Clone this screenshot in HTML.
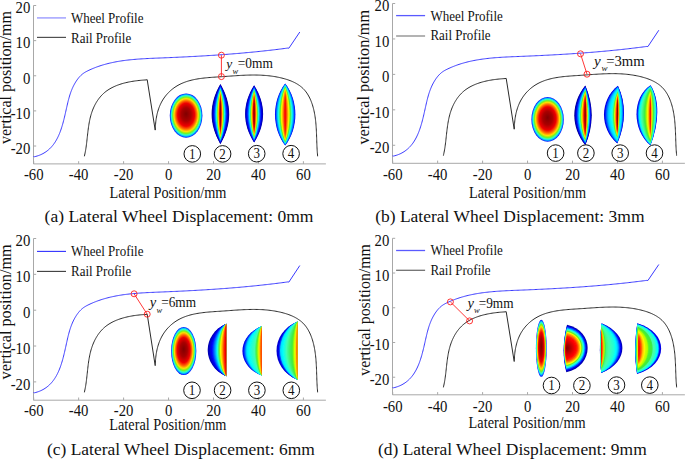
<!DOCTYPE html>
<html><head><meta charset="utf-8"><style>
html,body{margin:0;padding:0;background:#fff;width:685px;height:459px;overflow:hidden}
svg{display:block}
</style></head><body>
<svg width="685" height="459" viewBox="0 0 685 459" font-family="Liberation Serif" fill="#111">
<defs><radialGradient id="ov" cx="0.5" cy="0.5" r="0.5" fx="0.5" fy="0.46"><stop offset="0.0" stop-color="#800000"/><stop offset="0.3" stop-color="#a90000"/><stop offset="0.52" stop-color="#f00000"/><stop offset="0.64" stop-color="#ff6a00"/><stop offset="0.74" stop-color="#ffdf00"/><stop offset="0.82" stop-color="#73f51e"/><stop offset="0.89" stop-color="#2affcc"/><stop offset="0.94" stop-color="#00b2ff"/><stop offset="0.98" stop-color="#002eff"/><stop offset="1.0" stop-color="#0000fa"/></radialGradient><radialGradient id="ovd" cx="0" cy="0.5" r="1" fx="0" fy="0.5"><stop offset="0.0" stop-color="#800000"/><stop offset="0.15" stop-color="#b30000"/><stop offset="0.35" stop-color="#fa0000"/><stop offset="0.5" stop-color="#ff6a00"/><stop offset="0.62" stop-color="#ffdf00"/><stop offset="0.72" stop-color="#73f51e"/><stop offset="0.82" stop-color="#2affcc"/><stop offset="0.9" stop-color="#00b2ff"/><stop offset="0.97" stop-color="#0019ff"/><stop offset="1.0" stop-color="#0000e6"/></radialGradient><filter id="bl" x="-20%" y="-20%" width="140%" height="140%"><feGaussianBlur stdDeviation="0.35"/></filter><radialGradient id="ovd2" cx="0.5" cy="0.5" r="0.5"><stop offset="0.0" stop-color="#9e0000"/><stop offset="0.15" stop-color="#e60000"/><stop offset="0.3" stop-color="#ff6a00"/><stop offset="0.45" stop-color="#fff100"/><stop offset="0.6" stop-color="#46ffaa"/><stop offset="0.75" stop-color="#00b2ff"/><stop offset="0.9" stop-color="#0019ff"/><stop offset="1.0" stop-color="#0000c7"/></radialGradient></defs>
<path d="M33.5 5.5 V163.9 H325.9" fill="none" stroke="#a8a8a8" stroke-width="1"/>
<path d="M33.5 5.50 h2.7" stroke="#a8a8a8" stroke-width="1"/>
<path d="M33.5 40.63 h2.7" stroke="#a8a8a8" stroke-width="1"/>
<path d="M33.5 75.77 h2.7" stroke="#a8a8a8" stroke-width="1"/>
<path d="M33.5 110.90 h2.7" stroke="#a8a8a8" stroke-width="1"/>
<path d="M33.5 146.03 h2.7" stroke="#a8a8a8" stroke-width="1"/>
<path d="M33.70 163.9 v-2.7" stroke="#a8a8a8" stroke-width="1"/>
<path d="M78.65 163.9 v-2.7" stroke="#a8a8a8" stroke-width="1"/>
<path d="M123.60 163.9 v-2.7" stroke="#a8a8a8" stroke-width="1"/>
<path d="M168.55 163.9 v-2.7" stroke="#a8a8a8" stroke-width="1"/>
<path d="M213.50 163.9 v-2.7" stroke="#a8a8a8" stroke-width="1"/>
<path d="M258.45 163.9 v-2.7" stroke="#a8a8a8" stroke-width="1"/>
<path d="M303.40 163.9 v-2.7" stroke="#a8a8a8" stroke-width="1"/>
<path d="M33.50 156.50 L34.55 156.73 L35.87 156.39 L37.15 156.02 L38.38 155.61 L39.58 155.16 L40.74 154.68 L41.86 154.16 L42.94 153.61 L43.99 153.02 L45.00 152.40 L45.98 151.75 L46.92 151.07 L47.83 150.36 L48.71 149.62 L49.55 148.86 L50.37 148.06 L51.16 147.24 L51.92 146.39 L52.65 145.52 L53.35 144.63 L54.02 143.71 L54.68 142.77 L55.30 141.81 L55.90 140.83 L56.48 139.83 L57.04 138.81 L57.57 137.78 L58.09 136.73 L58.58 135.66 L59.06 134.57 L59.52 133.48 L59.96 132.36 L60.38 131.24 L60.79 130.11 L61.18 128.96 L61.56 127.81 L61.93 126.64 L62.28 125.47 L62.63 124.29 L62.96 123.11 L63.28 121.91 L63.59 120.72 L63.90 119.52 L64.19 118.32 L64.48 117.12 L64.77 115.91 L65.05 114.71 L65.32 113.50 L65.59 112.30 L65.86 111.10 L66.13 109.90 L66.39 108.71 L66.66 107.52 L66.93 106.34 L67.20 105.16 L67.47 104.00 L67.74 102.84 L68.02 101.68 L68.31 100.54 L68.61 99.40 L68.91 98.27 L69.23 97.15 L69.55 96.03 L69.89 94.93 L70.25 93.82 L70.62 92.73 L71.02 91.64 L71.43 90.56 L71.86 89.49 L72.31 88.42 L72.79 87.36 L73.29 86.31 L73.82 85.27 L74.38 84.23 L74.96 83.19 L75.58 82.17 L76.23 81.15 L76.91 80.14 L77.63 79.15 L78.38 78.18 L79.17 77.23 L79.99 76.33 L80.85 75.46 L81.75 74.64 L82.68 73.87 L83.66 73.16 L84.67 72.50 L85.71 71.89 L86.77 71.32 L87.85 70.78 L88.93 70.26 L90.03 69.75 L91.12 69.26 L92.22 68.79 L93.32 68.33 L94.43 67.88 L95.54 67.45 L96.65 67.03 L97.77 66.63 L98.89 66.24 L100.02 65.86 L101.14 65.50 L102.28 65.14 L103.41 64.80 L104.55 64.48 L105.69 64.16 L106.83 63.86 L107.98 63.56 L109.13 63.28 L110.28 63.01 L111.44 62.75 L112.59 62.50 L113.75 62.26 L114.92 62.03 L116.08 61.81 L117.25 61.59 L118.42 61.39 L119.59 61.20 L120.76 61.01 L121.94 60.83 L123.12 60.66 L124.30 60.50 L125.48 60.35 L126.66 60.20 L127.85 60.06 L129.04 59.93 L130.23 59.80 L131.42 59.68 L132.61 59.57 L133.80 59.46 L134.99 59.35 L136.19 59.25 L137.38 59.16 L138.58 59.07 L139.78 58.99 L140.98 58.91 L142.18 58.83 L143.38 58.76 L144.58 58.69 L145.78 58.63 L146.98 58.56 L148.18 58.50 L149.39 58.45 L150.59 58.39 L151.79 58.34 L153.00 58.28 L154.20 58.23 L155.40 58.18 L156.61 58.14 L157.81 58.09 L159.01 58.04 L160.22 57.99 L161.42 57.95 L162.62 57.90 L163.82 57.85 L165.02 57.80 L166.22 57.75 L167.42 57.70 L168.62 57.65 L169.82 57.60 L171.02 57.55 L172.22 57.50 L173.42 57.44 L174.61 57.39 L175.81 57.34 L177.01 57.28 L178.20 57.23 L179.40 57.17 L180.59 57.12 L181.79 57.06 L182.98 57.00 L184.18 56.94 L185.37 56.89 L186.57 56.83 L187.76 56.77 L188.95 56.71 L190.15 56.64 L191.34 56.58 L192.53 56.52 L193.72 56.45 L194.92 56.39 L196.11 56.32 L197.30 56.26 L198.49 56.19 L199.68 56.12 L200.87 56.06 L202.06 55.99 L203.25 55.92 L204.44 55.85 L205.63 55.77 L206.82 55.70 L208.01 55.63 L209.20 55.55 L210.39 55.48 L211.58 55.40 L212.77 55.32 L213.95 55.25 L215.14 55.17 L216.33 55.09 L217.52 55.01 L218.71 54.92 L219.90 54.84 L221.08 54.76 L222.27 54.67 L223.46 54.58 L224.65 54.50 L225.84 54.41 L227.02 54.32 L228.21 54.23 L229.40 54.14 L230.59 54.04 L231.78 53.95 L232.96 53.86 L234.15 53.76 L235.34 53.66 L236.53 53.56 L237.71 53.46 L238.90 53.36 L240.09 53.26 L241.28 53.16 L242.47 53.05 L243.65 52.95 L244.84 52.84 L246.03 52.73 L247.22 52.62 L248.41 52.51 L249.60 52.40 L250.79 52.29 L251.98 52.17 L253.16 52.06 L254.35 51.94 L255.54 51.82 L256.73 51.70 L257.92 51.58 L259.11 51.46 L260.30 51.33 L261.49 51.21 L262.68 51.08 L263.87 50.95 L265.07 50.82 L266.26 50.69 L267.45 50.56 L268.64 50.42 L269.83 50.29 L271.02 50.15 L272.22 50.01 L273.41 49.87 L274.60 49.73 L275.80 49.59 L276.99 49.44 L278.18 49.30 L279.38 49.15 L280.57 49.00 L281.77 48.85 L282.96 48.69 L284.16 48.54 L285.36 48.38 L286.55 48.23 L287.75 48.07 L288.90 48.20 L288.90 48.20 L299.80 32.00 " fill="none" stroke="#3a3aff" stroke-width="1"/>
<path d="M84.40 156.30 L84.63 155.04 L84.88 153.93 L85.12 152.82 L85.34 151.69 L85.55 150.55 L85.74 149.40 L85.93 148.25 L86.10 147.08 L86.26 145.91 L86.42 144.73 L86.57 143.54 L86.71 142.35 L86.85 141.15 L86.98 139.95 L87.12 138.74 L87.25 137.53 L87.38 136.32 L87.51 135.10 L87.65 133.89 L87.79 132.67 L87.93 131.45 L88.08 130.23 L88.24 129.01 L88.40 127.79 L88.57 126.58 L88.76 125.37 L88.95 124.16 L89.16 122.95 L89.38 121.75 L89.62 120.55 L89.87 119.36 L90.14 118.18 L90.43 117.00 L90.74 115.83 L91.06 114.67 L91.41 113.52 L91.79 112.37 L92.18 111.24 L92.60 110.12 L93.04 109.00 L93.51 107.91 L94.00 106.82 L94.51 105.75 L95.05 104.70 L95.61 103.66 L96.19 102.64 L96.80 101.64 L97.44 100.65 L98.10 99.69 L98.78 98.75 L99.49 97.83 L100.22 96.93 L100.98 96.05 L101.77 95.20 L102.58 94.38 L103.42 93.58 L104.28 92.80 L105.17 92.06 L106.09 91.34 L107.03 90.65 L107.99 89.99 L108.98 89.36 L109.99 88.75 L111.02 88.17 L112.07 87.61 L113.14 87.08 L114.22 86.57 L115.32 86.09 L116.44 85.62 L117.57 85.18 L118.71 84.77 L119.87 84.37 L121.03 83.99 L122.21 83.64 L123.39 83.30 L124.58 82.98 L125.78 82.69 L126.98 82.41 L128.19 82.14 L129.40 81.90 L130.61 81.67 L131.82 81.45 L133.03 81.26 L134.24 81.07 L135.44 80.90 L136.65 80.75 L137.84 80.61 L139.04 80.48 L140.22 80.36 L141.40 80.25 L142.56 80.16 L143.72 80.07 L144.86 79.99 L145.99 79.93 L147.20 79.70 L147.20 79.70 L155.20 130.10 L155.20 130.10 L155.34 128.93 L155.37 127.77 L155.42 126.59 L155.48 125.41 L155.56 124.23 L155.66 123.04 L155.79 121.84 L155.93 120.65 L156.09 119.45 L156.28 118.25 L156.49 117.06 L156.72 115.87 L156.97 114.68 L157.25 113.49 L157.56 112.31 L157.89 111.14 L158.24 109.98 L158.62 108.82 L159.03 107.68 L159.46 106.54 L159.93 105.42 L160.42 104.32 L160.94 103.23 L161.49 102.15 L162.07 101.09 L162.69 100.05 L163.33 99.03 L164.00 98.03 L164.71 97.05 L165.44 96.09 L166.20 95.15 L166.98 94.24 L167.79 93.35 L168.62 92.48 L169.48 91.64 L170.36 90.82 L171.25 90.04 L172.17 89.27 L173.10 88.54 L174.06 87.84 L175.02 87.16 L176.01 86.52 L177.00 85.90 L178.01 85.32 L179.04 84.76 L180.07 84.23 L181.12 83.73 L182.18 83.25 L183.25 82.80 L184.34 82.38 L185.43 81.97 L186.53 81.59 L187.65 81.23 L188.77 80.89 L189.91 80.58 L191.05 80.28 L192.20 80.00 L193.36 79.73 L194.52 79.49 L195.69 79.26 L196.87 79.05 L198.06 78.85 L199.25 78.66 L200.44 78.49 L201.64 78.33 L202.85 78.18 L204.06 78.04 L205.27 77.91 L206.49 77.79 L207.71 77.67 L208.93 77.57 L210.15 77.47 L211.38 77.38 L212.60 77.29 L213.83 77.20 L215.06 77.12 L216.28 77.04 L217.51 76.96 L218.73 76.88 L219.96 76.80 L221.18 76.72 L222.40 76.64 L223.62 76.56 L224.83 76.48 L226.05 76.39 L227.26 76.31 L228.47 76.22 L229.68 76.13 L230.88 76.05 L232.09 75.97 L233.29 75.88 L234.49 75.80 L235.69 75.72 L236.89 75.65 L238.09 75.57 L239.28 75.50 L240.48 75.43 L241.67 75.37 L242.86 75.31 L244.05 75.25 L245.24 75.20 L246.43 75.16 L247.61 75.12 L248.80 75.09 L249.99 75.06 L251.17 75.04 L252.35 75.03 L253.54 75.02 L254.72 75.03 L255.90 75.04 L257.09 75.06 L258.27 75.08 L259.45 75.12 L260.63 75.17 L261.81 75.23 L262.99 75.29 L264.17 75.37 L265.35 75.46 L266.53 75.56 L267.71 75.67 L268.89 75.80 L270.08 75.94 L271.26 76.09 L272.44 76.25 L273.62 76.43 L274.80 76.62 L275.99 76.83 L277.17 77.05 L278.36 77.28 L279.54 77.54 L280.73 77.80 L281.91 78.09 L283.10 78.39 L284.28 78.71 L285.45 79.05 L286.62 79.41 L287.78 79.78 L288.93 80.19 L290.07 80.61 L291.19 81.06 L292.30 81.53 L293.39 82.02 L294.47 82.54 L295.53 83.09 L296.56 83.67 L297.57 84.27 L298.56 84.90 L299.52 85.57 L300.46 86.26 L301.36 86.98 L302.24 87.74 L303.08 88.53 L303.89 89.36 L304.66 90.21 L305.41 91.10 L306.12 92.02 L306.80 92.97 L307.45 93.94 L308.06 94.94 L308.65 95.97 L309.21 97.01 L309.75 98.08 L310.25 99.17 L310.74 100.28 L311.19 101.40 L311.62 102.54 L312.03 103.69 L312.41 104.85 L312.77 106.03 L313.11 107.22 L313.42 108.41 L313.72 109.61 L313.99 110.81 L314.25 112.02 L314.49 113.23 L314.71 114.45 L314.91 115.66 L315.10 116.87 L315.27 118.08 L315.43 119.28 L315.58 120.49 L315.71 121.69 L315.83 122.90 L315.94 124.10 L316.03 125.30 L316.12 126.50 L316.20 127.70 L316.27 128.90 L316.34 130.09 L316.40 131.29 L316.45 132.48 L316.50 133.68 L316.55 134.87 L316.59 136.06 L316.63 137.25 L316.67 138.45 L316.71 139.64 L316.75 140.83 L316.79 142.01 L316.83 143.20 L316.87 144.39 L316.92 145.58 L316.98 146.76 L317.04 147.95 L317.10 149.14 L317.17 150.32 L317.25 151.51 L317.34 152.69 L317.44 153.88 L317.55 155.06 L317.60 156.30 " fill="none" stroke="#2a2a2a" stroke-width="1"/>
<ellipse cx="186.1" cy="115.6" rx="16.3" ry="22.2" fill="url(#ov)"/><g filter="url(#bl)"><path d="M220.40 84.00 C232.13 103.87 232.13 124.33 220.40 144.20 C208.67 124.33 208.67 103.87 220.40 84.00Z" fill="#00009e"/><path d="M220.40 84.34 C231.55 103.98 231.55 124.22 220.40 143.86 C209.25 124.22 209.25 103.98 220.40 84.34Z" fill="#0000a7"/><path d="M220.40 84.69 C230.96 104.10 230.96 124.10 220.40 143.51 C209.84 124.10 209.84 104.10 220.40 84.69Z" fill="#0000b9"/><path d="M220.40 85.06 C230.37 104.23 230.37 123.97 220.40 143.14 C210.43 123.97 210.43 104.23 220.40 85.06Z" fill="#0000d2"/><path d="M220.40 85.44 C229.79 104.36 229.79 123.84 220.40 142.76 C211.01 123.84 211.01 104.36 220.40 85.44Z" fill="#0000f0"/><path d="M220.40 85.85 C229.20 104.49 229.20 123.71 220.40 142.35 C211.60 123.71 211.60 104.49 220.40 85.85Z" fill="#0014ff"/><path d="M220.40 86.27 C228.61 104.64 228.61 123.56 220.40 141.93 C212.19 123.56 212.19 104.64 220.40 86.27Z" fill="#003cff"/><path d="M220.40 86.72 C228.03 104.79 228.03 123.41 220.40 141.48 C212.77 123.41 212.77 104.79 220.40 86.72Z" fill="#0067ff"/><path d="M220.40 87.20 C227.44 104.95 227.44 123.25 220.40 141.00 C213.36 123.25 213.36 104.95 220.40 87.20Z" fill="#0097ff"/><path d="M220.40 87.71 C226.85 105.13 226.85 123.07 220.40 140.49 C213.95 123.07 213.95 105.13 220.40 87.71Z" fill="#00caff"/><path d="M220.40 88.26 C226.27 105.31 226.27 122.89 220.40 139.94 C214.53 122.89 214.53 105.31 220.40 88.26Z" fill="#02fffc"/><path d="M220.40 88.85 C225.68 105.51 225.68 122.69 220.40 139.35 C215.12 122.69 215.12 105.51 220.40 88.85Z" fill="#38ffbb"/><path d="M220.40 89.50 C225.09 105.73 225.09 122.47 220.40 138.70 C215.71 122.47 215.71 105.73 220.40 89.50Z" fill="#40f263"/><path d="M220.40 90.21 C224.51 105.98 224.51 122.22 220.40 137.99 C216.29 122.22 216.29 105.98 220.40 90.21Z" fill="#83f815"/><path d="M220.40 91.00 C223.92 106.25 223.92 121.95 220.40 137.20 C216.88 121.95 216.88 106.25 220.40 91.00Z" fill="#ffff00"/><path d="M220.40 91.91 C223.33 106.56 223.33 121.64 220.40 136.29 C217.47 121.64 217.47 106.56 220.40 91.91Z" fill="#ffbf00"/><path d="M220.40 92.98 C222.75 106.92 222.75 121.28 220.40 135.22 C218.05 121.28 218.05 106.92 220.40 92.98Z" fill="#ff7900"/><path d="M220.40 94.27 C222.16 107.36 222.16 120.84 220.40 133.93 C218.64 120.84 218.64 107.36 220.40 94.27Z" fill="#ff2500"/><path d="M220.40 95.96 C221.57 107.93 221.57 120.27 220.40 132.24 C219.23 120.27 219.23 107.93 220.40 95.96Z" fill="#d20000"/><path d="M220.40 98.53 C220.99 108.81 220.99 119.39 220.40 129.67 C219.81 119.39 219.81 108.81 220.40 98.53Z" fill="#800000"/></g><g filter="url(#bl)"><path d="M254.10 85.30 C266.10 104.21 266.10 123.69 254.10 142.60 C242.10 123.69 242.10 104.21 254.10 85.30Z" fill="#0000b3"/><path d="M254.10 85.62 C265.50 104.32 265.50 123.58 254.10 142.28 C242.70 123.58 242.70 104.32 254.10 85.62Z" fill="#0000be"/><path d="M254.10 85.96 C264.90 104.43 264.90 123.47 254.10 141.94 C243.30 123.47 243.30 104.43 254.10 85.96Z" fill="#0000d4"/><path d="M254.10 86.31 C264.30 104.55 264.30 123.35 254.10 141.59 C243.90 123.35 243.90 104.55 254.10 86.31Z" fill="#0000ef"/><path d="M254.10 86.67 C263.70 104.68 263.70 123.22 254.10 141.23 C244.50 123.22 244.50 104.68 254.10 86.67Z" fill="#0011ff"/><path d="M254.10 87.06 C263.10 104.81 263.10 123.09 254.10 140.84 C245.10 123.09 245.10 104.81 254.10 87.06Z" fill="#0036ff"/><path d="M254.10 87.46 C262.50 104.94 262.50 122.96 254.10 140.44 C245.70 122.96 245.70 104.94 254.10 87.46Z" fill="#005fff"/><path d="M254.10 87.89 C261.90 105.09 261.90 122.81 254.10 140.01 C246.30 122.81 246.30 105.09 254.10 87.89Z" fill="#008cff"/><path d="M254.10 88.35 C261.30 105.24 261.30 122.66 254.10 139.55 C246.90 122.66 246.90 105.24 254.10 88.35Z" fill="#00bcff"/><path d="M254.10 88.83 C260.70 105.41 260.70 122.49 254.10 139.07 C247.50 122.49 247.50 105.41 254.10 88.83Z" fill="#00efff"/><path d="M254.10 89.35 C260.10 105.59 260.10 122.31 254.10 138.55 C248.10 122.31 248.10 105.59 254.10 89.35Z" fill="#23ffd4"/><path d="M254.10 89.92 C259.50 105.78 259.50 122.12 254.10 137.98 C248.70 122.12 248.70 105.78 254.10 89.92Z" fill="#43fa8d"/><path d="M254.10 90.53 C258.90 105.99 258.90 121.91 254.10 137.37 C249.30 121.91 249.30 105.99 254.10 90.53Z" fill="#49ed35"/><path d="M254.10 91.21 C258.30 106.22 258.30 121.68 254.10 136.69 C249.90 121.68 249.90 106.22 254.10 91.21Z" fill="#b8ff00"/><path d="M254.10 91.97 C257.70 106.48 257.70 121.42 254.10 135.93 C250.50 121.42 250.50 106.48 254.10 91.97Z" fill="#ffe700"/><path d="M254.10 92.83 C257.10 106.77 257.10 121.13 254.10 135.07 C251.10 121.13 251.10 106.77 254.10 92.83Z" fill="#ffab00"/><path d="M254.10 93.84 C256.50 107.11 256.50 120.79 254.10 134.06 C251.70 120.79 251.70 107.11 254.10 93.84Z" fill="#ff6600"/><path d="M254.10 95.08 C255.90 107.53 255.90 120.37 254.10 132.82 C252.30 120.37 252.30 107.53 254.10 95.08Z" fill="#ff1700"/><path d="M254.10 96.69 C255.30 108.08 255.30 119.82 254.10 131.21 C252.90 119.82 252.90 108.08 254.10 96.69Z" fill="#cb0000"/><path d="M254.10 99.13 C254.70 108.91 254.70 118.99 254.10 128.77 C253.50 118.99 253.50 108.91 254.10 99.13Z" fill="#800000"/></g><g filter="url(#bl)"><path d="M285.20 83.40 C298.80 100.79 298.80 128.11 285.20 145.50 C271.60 128.11 271.60 100.79 285.20 83.40Z" fill="#0000fa"/><path d="M285.20 83.69 C298.12 100.91 298.12 127.99 285.20 145.21 C272.28 127.99 272.28 100.91 285.20 83.69Z" fill="#0032ff"/><path d="M285.20 83.98 C297.44 101.04 297.44 127.86 285.20 144.92 C272.96 127.86 272.96 101.04 285.20 83.98Z" fill="#0061ff"/><path d="M285.20 84.30 C296.76 101.18 296.76 127.72 285.20 144.60 C273.64 127.72 273.64 101.18 285.20 84.30Z" fill="#008eff"/><path d="M285.20 84.62 C296.08 101.33 296.08 127.57 285.20 144.28 C274.32 127.57 274.32 101.33 285.20 84.62Z" fill="#00baff"/><path d="M285.20 84.97 C295.40 101.48 295.40 127.42 285.20 143.93 C275.00 127.42 275.00 101.48 285.20 84.97Z" fill="#00e4ff"/><path d="M285.20 85.33 C294.72 101.64 294.72 127.26 285.20 143.57 C275.68 127.26 275.68 101.64 285.20 85.33Z" fill="#0dffef"/><path d="M285.20 85.72 C294.04 101.81 294.04 127.09 285.20 143.18 C276.36 127.09 276.36 101.81 285.20 85.72Z" fill="#33ffc1"/><path d="M285.20 86.13 C293.36 101.99 293.36 126.91 285.20 142.77 C277.04 126.91 277.04 101.99 285.20 86.13Z" fill="#43fa8c"/><path d="M285.20 86.57 C292.68 102.18 292.68 126.72 285.20 142.33 C277.72 126.72 277.72 102.18 285.20 86.57Z" fill="#3eee4f"/><path d="M285.20 87.04 C292.00 102.39 292.00 126.51 285.20 141.86 C278.40 126.51 278.40 102.39 285.20 87.04Z" fill="#6df421"/><path d="M285.20 87.56 C291.32 102.62 291.32 126.28 285.20 141.34 C279.08 126.28 279.08 102.62 285.20 87.56Z" fill="#b3ff00"/><path d="M285.20 88.12 C290.64 102.87 290.64 126.03 285.20 140.78 C279.76 126.03 279.76 102.87 285.20 88.12Z" fill="#faff00"/><path d="M285.20 88.75 C289.96 103.14 289.96 125.76 285.20 140.15 C280.44 125.76 280.44 103.14 285.20 88.75Z" fill="#ffdf00"/><path d="M285.20 89.45 C289.28 103.45 289.28 125.45 285.20 139.45 C281.12 125.45 281.12 103.45 285.20 89.45Z" fill="#ffbc00"/><path d="M285.20 90.26 C288.60 103.81 288.60 125.09 285.20 138.64 C281.80 125.09 281.80 103.81 285.20 90.26Z" fill="#ff9a00"/><path d="M285.20 91.21 C287.92 104.22 287.92 124.68 285.20 137.69 C282.48 124.68 282.48 104.22 285.20 91.21Z" fill="#ff7400"/><path d="M285.20 92.38 C287.24 104.74 287.24 124.16 285.20 136.52 C283.16 124.16 283.16 104.74 285.20 92.38Z" fill="#ff4b00"/><path d="M285.20 93.94 C286.56 105.42 286.56 123.48 285.20 134.96 C283.84 123.48 283.84 105.42 285.20 93.94Z" fill="#ff2300"/><path d="M285.20 96.34 C285.88 106.48 285.88 122.42 285.20 132.56 C284.52 122.42 284.52 106.48 285.20 96.34Z" fill="#fa0000"/></g>
<circle cx="192.3" cy="153.9" r="8.3" fill="none" stroke="#111" stroke-width="1.0"/><text transform="translate(192.30 158.60) scale(1.0 1.1)" font-size="13" text-anchor="middle">1</text><circle cx="222.6" cy="153.9" r="8.3" fill="none" stroke="#111" stroke-width="1.0"/><text transform="translate(222.60 158.60) scale(1.0 1.1)" font-size="13" text-anchor="middle">2</text><circle cx="256.7" cy="153.7" r="8.3" fill="none" stroke="#111" stroke-width="1.0"/><text transform="translate(256.70 158.40) scale(1.0 1.1)" font-size="13" text-anchor="middle">3</text><circle cx="291.1" cy="153.7" r="8.3" fill="none" stroke="#111" stroke-width="1.0"/><text transform="translate(291.10 158.40) scale(1.0 1.1)" font-size="13" text-anchor="middle">4</text>
<g fill="none" stroke="#ff2020" stroke-width="0.9"><path d="M221.4 55.2 L221.4 76.6"/><circle cx="221.4" cy="55.2" r="3.0"/><circle cx="221.4" cy="76.6" r="3.0"/></g>
<text transform="translate(226.20 68.40) scale(1.0 1.0)" font-size="13.5" font-style="italic">y</text><text transform="translate(232.40 73.90) scale(1.0 1.0)" font-size="8.5" font-style="italic">w</text><text transform="translate(237.80 68.40) scale(1.0 1.08)" font-size="13.4">=0mm</text>
<text transform="translate(30.30 13.30) scale(0.95 1.12)" font-size="15.5" text-anchor="end">20</text>
<text transform="translate(30.30 48.43) scale(0.95 1.12)" font-size="15.5" text-anchor="end">10</text>
<text transform="translate(30.30 83.57) scale(0.95 1.12)" font-size="15.5" text-anchor="end">0</text>
<text transform="translate(30.30 118.70) scale(0.95 1.12)" font-size="15.5" text-anchor="end">-10</text>
<text transform="translate(30.30 153.83) scale(0.95 1.12)" font-size="15.5" text-anchor="end">-20</text>
<text transform="translate(33.70 179.70) scale(0.95 1.12)" font-size="15.5" text-anchor="middle">-60</text>
<text transform="translate(78.65 179.70) scale(0.95 1.12)" font-size="15.5" text-anchor="middle">-40</text>
<text transform="translate(123.60 179.70) scale(0.95 1.12)" font-size="15.5" text-anchor="middle">-20</text>
<text transform="translate(168.55 179.70) scale(0.95 1.12)" font-size="15.5" text-anchor="middle">0</text>
<text transform="translate(213.50 179.70) scale(0.95 1.12)" font-size="15.5" text-anchor="middle">20</text>
<text transform="translate(258.45 179.70) scale(0.95 1.12)" font-size="15.5" text-anchor="middle">40</text>
<text transform="translate(303.40 179.70) scale(0.95 1.12)" font-size="15.5" text-anchor="middle">60</text>
<path d="M37.0 17.9 h29" stroke="#a8a8ff" stroke-width="1.6"/><path d="M37.0 37.4 h29" stroke="#505050" stroke-width="1.2"/><text transform="translate(71.00 22.60) scale(1.0 1.17)" font-size="13">Wheel Profile</text><text transform="translate(71.00 42.80) scale(1.0 1.17)" font-size="13">Rail Profile</text>
<text transform="translate(109.40 198.00) scale(1.0 1.12)" font-size="14.3">Lateral Position/mm</text>
<text transform="translate(11.2 144.0) rotate(-90) scale(1 1.08)" font-size="15.8" textLength="132.9" lengthAdjust="spacingAndGlyphs">vertical position/mm</text>
<text transform="translate(44.60 222.00) scale(1.0 1.0)" font-size="17.5" textLength="268.8" lengthAdjust="spacingAndGlyphs">(a) Lateral Wheel Displacement: 0mm</text>
<path d="M392.5 3.5 V163.3 H684.9" fill="none" stroke="#a8a8a8" stroke-width="1"/>
<path d="M392.5 3.50 h2.7" stroke="#a8a8a8" stroke-width="1"/>
<path d="M392.5 38.94 h2.7" stroke="#a8a8a8" stroke-width="1"/>
<path d="M392.5 74.39 h2.7" stroke="#a8a8a8" stroke-width="1"/>
<path d="M392.5 109.83 h2.7" stroke="#a8a8a8" stroke-width="1"/>
<path d="M392.5 145.28 h2.7" stroke="#a8a8a8" stroke-width="1"/>
<path d="M392.70 163.3 v-2.7" stroke="#a8a8a8" stroke-width="1"/>
<path d="M437.65 163.3 v-2.7" stroke="#a8a8a8" stroke-width="1"/>
<path d="M482.60 163.3 v-2.7" stroke="#a8a8a8" stroke-width="1"/>
<path d="M527.55 163.3 v-2.7" stroke="#a8a8a8" stroke-width="1"/>
<path d="M572.50 163.3 v-2.7" stroke="#a8a8a8" stroke-width="1"/>
<path d="M617.45 163.3 v-2.7" stroke="#a8a8a8" stroke-width="1"/>
<path d="M662.40 163.3 v-2.7" stroke="#a8a8a8" stroke-width="1"/>
<path d="M392.50 155.84 L393.55 156.06 L394.87 155.73 L396.15 155.35 L397.38 154.94 L398.58 154.48 L399.74 154.00 L400.86 153.47 L401.94 152.92 L402.99 152.33 L404.00 151.70 L404.98 151.05 L405.92 150.36 L406.83 149.64 L407.71 148.90 L408.55 148.12 L409.37 147.32 L410.16 146.50 L410.92 145.64 L411.65 144.76 L412.35 143.86 L413.02 142.94 L413.68 141.99 L414.30 141.02 L414.90 140.03 L415.48 139.02 L416.04 137.99 L416.57 136.95 L417.09 135.89 L417.58 134.81 L418.06 133.72 L418.52 132.61 L418.96 131.49 L419.38 130.35 L419.79 129.21 L420.18 128.05 L420.56 126.89 L420.93 125.72 L421.28 124.53 L421.63 123.34 L421.96 122.15 L422.28 120.95 L422.59 119.74 L422.90 118.53 L423.19 117.32 L423.48 116.10 L423.77 114.89 L424.05 113.67 L424.32 112.46 L424.59 111.24 L424.86 110.03 L425.13 108.83 L425.39 107.62 L425.66 106.42 L425.93 105.23 L426.20 104.05 L426.47 102.87 L426.74 101.70 L427.02 100.54 L427.31 99.38 L427.61 98.23 L427.91 97.09 L428.23 95.96 L428.55 94.84 L428.89 93.72 L429.25 92.61 L429.62 91.50 L430.02 90.41 L430.43 89.32 L430.86 88.23 L431.31 87.16 L431.79 86.09 L432.29 85.03 L432.82 83.97 L433.38 82.92 L433.96 81.88 L434.58 80.85 L435.23 79.82 L435.91 78.80 L436.63 77.80 L437.38 76.82 L438.17 75.87 L438.99 74.95 L439.85 74.08 L440.75 73.25 L441.68 72.48 L442.66 71.76 L443.67 71.10 L444.71 70.48 L445.77 69.90 L446.85 69.36 L447.93 68.83 L449.03 68.32 L450.12 67.83 L451.22 67.35 L452.32 66.89 L453.43 66.44 L454.54 66.00 L455.65 65.58 L456.77 65.17 L457.89 64.78 L459.02 64.40 L460.14 64.03 L461.28 63.67 L462.41 63.33 L463.55 63.00 L464.69 62.68 L465.83 62.37 L466.98 62.08 L468.13 61.79 L469.28 61.52 L470.44 61.26 L471.59 61.00 L472.75 60.76 L473.92 60.53 L475.08 60.30 L476.25 60.09 L477.42 59.89 L478.59 59.69 L479.76 59.50 L480.94 59.32 L482.12 59.15 L483.30 58.99 L484.48 58.83 L485.66 58.68 L486.85 58.54 L488.04 58.41 L489.23 58.28 L490.42 58.16 L491.61 58.04 L492.80 57.93 L493.99 57.83 L495.19 57.73 L496.38 57.64 L497.58 57.55 L498.78 57.46 L499.98 57.38 L501.18 57.31 L502.38 57.23 L503.58 57.16 L504.78 57.10 L505.98 57.03 L507.18 56.97 L508.39 56.91 L509.59 56.86 L510.79 56.80 L512.00 56.75 L513.20 56.70 L514.40 56.65 L515.61 56.60 L516.81 56.55 L518.01 56.51 L519.22 56.46 L520.42 56.41 L521.62 56.36 L522.82 56.31 L524.02 56.26 L525.22 56.21 L526.42 56.16 L527.62 56.11 L528.82 56.06 L530.02 56.01 L531.22 55.96 L532.42 55.90 L533.61 55.85 L534.81 55.80 L536.01 55.74 L537.20 55.69 L538.40 55.63 L539.59 55.57 L540.79 55.52 L541.98 55.46 L543.18 55.40 L544.37 55.34 L545.57 55.28 L546.76 55.22 L547.95 55.16 L549.15 55.10 L550.34 55.03 L551.53 54.97 L552.72 54.91 L553.92 54.84 L555.11 54.78 L556.30 54.71 L557.49 54.64 L558.68 54.57 L559.87 54.50 L561.06 54.43 L562.25 54.36 L563.44 54.29 L564.63 54.22 L565.82 54.15 L567.01 54.07 L568.20 54.00 L569.39 53.92 L570.58 53.84 L571.77 53.77 L572.95 53.69 L574.14 53.61 L575.33 53.53 L576.52 53.44 L577.71 53.36 L578.90 53.28 L580.08 53.19 L581.27 53.11 L582.46 53.02 L583.65 52.93 L584.84 52.84 L586.02 52.75 L587.21 52.66 L588.40 52.57 L589.59 52.47 L590.78 52.38 L591.96 52.28 L593.15 52.19 L594.34 52.09 L595.53 51.99 L596.71 51.89 L597.90 51.79 L599.09 51.68 L600.28 51.58 L601.47 51.48 L602.65 51.37 L603.84 51.26 L605.03 51.15 L606.22 51.04 L607.41 50.93 L608.60 50.82 L609.79 50.70 L610.98 50.59 L612.16 50.47 L613.35 50.35 L614.54 50.23 L615.73 50.11 L616.92 49.99 L618.11 49.86 L619.30 49.74 L620.49 49.61 L621.68 49.48 L622.87 49.35 L624.07 49.22 L625.26 49.09 L626.45 48.96 L627.64 48.82 L628.83 48.68 L630.02 48.55 L631.22 48.41 L632.41 48.26 L633.60 48.12 L634.80 47.98 L635.99 47.83 L637.18 47.68 L638.38 47.53 L639.57 47.38 L640.77 47.23 L641.96 47.08 L643.16 46.92 L644.36 46.76 L645.55 46.60 L646.75 46.44 L647.90 46.58 L647.90 46.58 L658.80 30.23 " fill="none" stroke="#3a3aff" stroke-width="1"/>
<path d="M443.40 155.64 L443.63 154.36 L443.88 153.25 L444.12 152.12 L444.34 150.98 L444.55 149.84 L444.74 148.68 L444.93 147.51 L445.10 146.34 L445.26 145.15 L445.42 143.96 L445.57 142.77 L445.71 141.56 L445.85 140.35 L445.98 139.14 L446.12 137.92 L446.25 136.70 L446.38 135.48 L446.51 134.25 L446.65 133.02 L446.79 131.79 L446.93 130.56 L447.08 129.33 L447.24 128.11 L447.40 126.88 L447.57 125.65 L447.76 124.43 L447.95 123.21 L448.16 121.99 L448.38 120.78 L448.62 119.57 L448.87 118.37 L449.14 117.18 L449.43 115.99 L449.74 114.81 L450.06 113.64 L450.41 112.47 L450.79 111.32 L451.18 110.17 L451.60 109.04 L452.04 107.92 L452.51 106.81 L453.00 105.72 L453.51 104.64 L454.05 103.58 L454.61 102.53 L455.19 101.50 L455.80 100.49 L456.44 99.50 L457.10 98.52 L457.78 97.57 L458.49 96.64 L459.22 95.74 L459.98 94.85 L460.77 94.00 L461.58 93.16 L462.42 92.36 L463.28 91.58 L464.17 90.83 L465.09 90.10 L466.03 89.41 L466.99 88.74 L467.98 88.10 L468.99 87.49 L470.02 86.90 L471.07 86.34 L472.14 85.80 L473.22 85.29 L474.32 84.80 L475.44 84.33 L476.57 83.89 L477.71 83.47 L478.87 83.07 L480.03 82.69 L481.21 82.33 L482.39 81.99 L483.58 81.67 L484.78 81.37 L485.98 81.09 L487.19 80.82 L488.40 80.57 L489.61 80.34 L490.82 80.13 L492.03 79.93 L493.24 79.74 L494.44 79.57 L495.65 79.41 L496.84 79.27 L498.04 79.14 L499.22 79.02 L500.40 78.91 L501.56 78.82 L502.72 78.73 L503.86 78.65 L504.99 78.59 L506.20 78.36 L506.20 78.36 L514.20 129.20 L514.20 129.20 L514.34 128.03 L514.37 126.85 L514.42 125.66 L514.48 124.47 L514.56 123.28 L514.66 122.08 L514.79 120.87 L514.93 119.67 L515.09 118.46 L515.28 117.25 L515.49 116.05 L515.72 114.84 L515.97 113.64 L516.25 112.45 L516.56 111.26 L516.89 110.08 L517.24 108.90 L517.62 107.74 L518.03 106.58 L518.46 105.44 L518.93 104.31 L519.42 103.19 L519.94 102.09 L520.49 101.01 L521.07 99.94 L521.69 98.89 L522.33 97.86 L523.00 96.85 L523.71 95.86 L524.44 94.89 L525.20 93.94 L525.98 93.02 L526.79 92.12 L527.62 91.25 L528.48 90.40 L529.36 89.58 L530.25 88.78 L531.17 88.02 L532.10 87.28 L533.06 86.57 L534.02 85.89 L535.01 85.24 L536.00 84.62 L537.01 84.03 L538.04 83.46 L539.07 82.93 L540.12 82.42 L541.18 81.94 L542.25 81.49 L543.34 81.06 L544.43 80.65 L545.53 80.26 L546.65 79.90 L547.77 79.56 L548.91 79.24 L550.05 78.94 L551.20 78.66 L552.36 78.39 L553.52 78.14 L554.69 77.91 L555.87 77.70 L557.06 77.50 L558.25 77.31 L559.44 77.13 L560.64 76.97 L561.85 76.82 L563.06 76.68 L564.27 76.55 L565.49 76.43 L566.71 76.31 L567.93 76.21 L569.15 76.11 L570.38 76.01 L571.60 75.92 L572.83 75.84 L574.06 75.75 L575.28 75.67 L576.51 75.59 L577.73 75.51 L578.96 75.43 L580.18 75.35 L581.40 75.27 L582.62 75.19 L583.83 75.10 L585.05 75.02 L586.26 74.93 L587.47 74.85 L588.68 74.76 L589.88 74.67 L591.09 74.59 L592.29 74.51 L593.49 74.42 L594.69 74.34 L595.89 74.27 L597.09 74.19 L598.28 74.12 L599.48 74.05 L600.67 73.99 L601.86 73.93 L603.05 73.87 L604.24 73.82 L605.43 73.78 L606.61 73.74 L607.80 73.70 L608.99 73.68 L610.17 73.66 L611.35 73.64 L612.54 73.64 L613.72 73.64 L614.90 73.65 L616.09 73.67 L617.27 73.70 L618.45 73.74 L619.63 73.79 L620.81 73.84 L621.99 73.91 L623.17 73.99 L624.35 74.08 L625.53 74.18 L626.71 74.30 L627.89 74.42 L629.08 74.56 L630.26 74.71 L631.44 74.88 L632.62 75.06 L633.80 75.25 L634.99 75.46 L636.17 75.68 L637.36 75.92 L638.54 76.17 L639.73 76.44 L640.91 76.73 L642.10 77.03 L643.28 77.36 L644.45 77.70 L645.62 78.06 L646.78 78.44 L647.93 78.85 L649.07 79.27 L650.19 79.73 L651.30 80.20 L652.39 80.70 L653.47 81.23 L654.53 81.78 L655.56 82.36 L656.57 82.97 L657.56 83.61 L658.52 84.28 L659.46 84.98 L660.36 85.71 L661.24 86.47 L662.08 87.27 L662.89 88.10 L663.66 88.96 L664.41 89.86 L665.12 90.79 L665.80 91.74 L666.45 92.73 L667.06 93.73 L667.65 94.77 L668.21 95.82 L668.75 96.90 L669.25 98.00 L669.74 99.11 L670.19 100.25 L670.62 101.40 L671.03 102.56 L671.41 103.73 L671.77 104.92 L672.11 106.12 L672.42 107.32 L672.72 108.53 L672.99 109.75 L673.25 110.97 L673.49 112.19 L673.71 113.41 L673.91 114.63 L674.10 115.85 L674.27 117.07 L674.43 118.29 L674.58 119.51 L674.71 120.72 L674.83 121.94 L674.94 123.15 L675.03 124.36 L675.12 125.57 L675.20 126.78 L675.27 127.99 L675.34 129.20 L675.40 130.40 L675.45 131.61 L675.50 132.81 L675.55 134.02 L675.59 135.22 L675.63 136.42 L675.67 137.62 L675.71 138.82 L675.75 140.02 L675.79 141.22 L675.83 142.42 L675.87 143.62 L675.92 144.82 L675.98 146.02 L676.04 147.21 L676.10 148.41 L676.17 149.60 L676.25 150.80 L676.34 152.00 L676.44 153.19 L676.55 154.39 L676.60 155.64 " fill="none" stroke="#2a2a2a" stroke-width="1"/>
<ellipse cx="547.6" cy="119.4" rx="16.2" ry="22.4" fill="url(#ov)"/><g filter="url(#bl)"><path d="M585.30 85.50 C593.83 105.20 593.83 125.50 585.30 145.20 C570.63 127.29 570.63 103.41 585.30 85.50Z" fill="#000094"/><path d="M585.30 85.83 C593.41 105.31 593.41 125.39 585.30 144.87 C571.37 127.16 571.37 103.54 585.30 85.83Z" fill="#0000ad"/><path d="M585.30 86.18 C592.98 105.43 592.98 125.27 585.30 144.52 C572.10 127.02 572.10 103.68 585.30 86.18Z" fill="#0000d0"/><path d="M585.30 86.55 C592.55 105.56 592.55 125.14 585.30 144.15 C572.83 126.87 572.83 103.83 585.30 86.55Z" fill="#0000f7"/><path d="M585.30 86.93 C592.13 105.69 592.13 125.01 585.30 143.77 C573.57 126.72 573.57 103.98 585.30 86.93Z" fill="#0023ff"/><path d="M585.30 87.33 C591.70 105.82 591.70 124.88 585.30 143.37 C574.30 126.56 574.30 104.14 585.30 87.33Z" fill="#0051ff"/><path d="M585.30 87.75 C591.27 105.97 591.27 124.73 585.30 142.95 C575.03 126.39 575.03 104.31 585.30 87.75Z" fill="#0082ff"/><path d="M585.30 88.20 C590.85 106.12 590.85 124.58 585.30 142.50 C575.77 126.21 575.77 104.49 585.30 88.20Z" fill="#00b4ff"/><path d="M585.30 88.67 C590.42 106.28 590.42 124.42 585.30 142.03 C576.50 126.02 576.50 104.68 585.30 88.67Z" fill="#00e8ff"/><path d="M585.30 89.18 C589.99 106.45 589.99 124.25 585.30 141.52 C577.23 125.82 577.23 104.88 585.30 89.18Z" fill="#1cffdd"/><path d="M585.30 89.72 C589.57 106.64 589.57 124.06 585.30 140.98 C577.97 125.60 577.97 105.10 585.30 89.72Z" fill="#45fc9b"/><path d="M585.30 90.31 C589.14 106.84 589.14 123.86 585.30 140.39 C578.70 125.37 578.70 105.33 585.30 90.31Z" fill="#3dec44"/><path d="M585.30 90.95 C588.71 107.05 588.71 123.65 585.30 139.75 C579.43 125.11 579.43 105.59 585.30 90.95Z" fill="#9bfc08"/><path d="M585.30 91.66 C588.29 107.29 588.29 123.41 585.30 139.04 C580.17 124.83 580.17 105.87 585.30 91.66Z" fill="#fffb00"/><path d="M585.30 92.45 C587.86 107.56 587.86 123.14 585.30 138.25 C580.90 124.51 580.90 106.19 585.30 92.45Z" fill="#ffc400"/><path d="M585.30 93.35 C587.43 107.87 587.43 122.83 585.30 137.35 C581.63 124.15 581.63 106.55 585.30 93.35Z" fill="#ff8d00"/><path d="M585.30 94.40 C587.01 108.23 587.01 122.47 585.30 136.30 C582.37 123.73 582.37 106.97 585.30 94.40Z" fill="#ff4800"/><path d="M585.30 95.69 C586.58 108.66 586.58 122.04 585.30 135.01 C583.10 123.22 583.10 107.48 585.30 95.69Z" fill="#ff0200"/><path d="M585.30 97.36 C586.15 109.23 586.15 121.47 585.30 133.34 C583.83 122.54 583.83 108.16 585.30 97.36Z" fill="#c10000"/><path d="M585.30 99.91 C585.73 110.10 585.73 120.60 585.30 130.79 C584.57 121.53 584.57 109.17 585.30 99.91Z" fill="#800000"/></g><g filter="url(#bl)"><path d="M617.90 85.80 C626.43 103.08 625.83 124.39 617.30 143.40 C599.17 128.42 599.77 99.62 617.90 85.80Z" fill="#0000d1"/><path d="M617.90 86.09 C626.00 103.20 625.41 124.29 617.30 143.11 C600.08 128.28 600.67 99.78 617.90 86.09Z" fill="#0008ff"/><path d="M617.89 86.40 C625.57 103.32 624.99 124.19 617.31 142.80 C600.99 128.14 601.57 99.94 617.89 86.40Z" fill="#003cff"/><path d="M617.89 86.72 C625.14 103.45 624.56 124.08 617.31 142.48 C601.90 127.98 602.48 100.10 617.89 86.72Z" fill="#0061ff"/><path d="M617.89 87.06 C624.71 103.58 624.14 123.96 617.31 142.14 C602.81 127.82 603.38 100.28 617.89 87.06Z" fill="#0087ff"/><path d="M617.88 87.41 C624.28 103.72 623.72 123.84 617.32 141.79 C603.72 127.65 604.28 100.46 617.88 87.41Z" fill="#00adff"/><path d="M617.88 87.78 C623.85 103.87 623.29 123.72 617.32 141.42 C604.63 127.47 605.19 100.66 617.88 87.78Z" fill="#00cbff"/><path d="M617.88 88.18 C623.42 104.03 622.87 123.58 617.32 141.02 C605.54 127.28 606.09 100.86 617.88 88.18Z" fill="#00daff"/><path d="M617.87 88.60 C622.99 104.20 622.45 123.44 617.33 140.60 C606.45 127.08 606.99 101.08 617.87 88.60Z" fill="#00e8ff"/><path d="M617.87 89.05 C622.56 104.38 622.03 123.29 617.33 140.15 C607.36 126.87 607.89 101.31 617.87 89.05Z" fill="#00f6ff"/><path d="M617.86 89.53 C622.13 104.57 621.61 123.12 617.34 139.67 C608.27 126.63 608.79 101.56 617.86 89.53Z" fill="#05fff9"/><path d="M617.86 90.05 C621.70 104.78 621.18 122.95 617.34 139.15 C609.18 126.38 609.70 101.83 617.86 90.05Z" fill="#12ffe9"/><path d="M617.85 90.62 C621.26 105.01 620.76 122.75 617.35 138.58 C610.10 126.11 610.60 102.13 617.85 90.62Z" fill="#35ffbf"/><path d="M617.84 91.25 C620.83 105.26 620.34 122.54 617.36 137.95 C611.01 125.81 611.50 102.46 617.84 91.25Z" fill="#41f574"/><path d="M617.84 91.96 C620.40 105.55 619.92 122.30 617.36 137.24 C611.92 125.47 612.40 102.83 617.84 91.96Z" fill="#5bf12b"/><path d="M617.83 92.77 C619.96 105.87 619.51 122.02 617.37 136.43 C612.84 125.08 613.29 103.25 617.83 92.77Z" fill="#e4ff00"/><path d="M617.82 93.73 C619.52 106.25 619.09 121.70 617.38 135.47 C613.76 124.62 614.19 103.75 617.82 93.73Z" fill="#ffc200"/><path d="M617.81 94.89 C619.09 106.72 618.67 121.30 617.39 134.31 C614.67 124.06 615.09 104.35 617.81 94.89Z" fill="#ff6a00"/><path d="M617.79 96.43 C618.64 107.33 618.26 120.78 617.41 132.77 C615.60 123.32 615.98 105.15 617.79 96.43Z" fill="#ef0000"/><path d="M617.76 98.78 C618.19 108.27 617.86 119.98 617.44 130.42 C616.53 122.19 616.86 106.37 617.76 98.78Z" fill="#800000"/></g><g filter="url(#bl)"><path d="M650.50 85.30 C659.57 98.52 659.57 122.56 650.50 145.40 C631.83 130.38 631.83 97.32 650.50 85.30Z" fill="#0000e6"/><path d="M650.50 85.58 C659.11 98.68 659.11 122.50 650.50 145.12 C632.77 130.24 632.77 97.49 650.50 85.58Z" fill="#002aff"/><path d="M650.50 85.86 C658.66 98.84 658.66 122.43 650.50 144.84 C633.70 130.09 633.70 97.66 650.50 85.86Z" fill="#0084ff"/><path d="M650.50 86.17 C658.21 99.01 658.21 122.35 650.50 144.53 C634.63 129.94 634.63 97.84 650.50 86.17Z" fill="#00eaff"/><path d="M650.50 86.48 C657.75 99.18 657.75 122.28 650.50 144.22 C635.57 129.78 635.57 98.03 650.50 86.48Z" fill="#05fff9"/><path d="M650.50 86.82 C657.30 99.37 657.30 122.20 650.50 143.88 C636.50 129.62 636.50 98.23 650.50 86.82Z" fill="#1dffdb"/><path d="M650.50 87.17 C656.85 99.57 656.85 122.11 650.50 143.53 C637.43 129.44 637.43 98.44 650.50 87.17Z" fill="#36ffbd"/><path d="M650.50 87.54 C656.39 99.78 656.39 122.02 650.50 143.16 C638.37 129.25 638.37 98.67 650.50 87.54Z" fill="#45fea2"/><path d="M650.50 87.94 C655.94 100.00 655.94 121.93 650.50 142.76 C639.30 129.06 639.30 98.90 650.50 87.94Z" fill="#43f98b"/><path d="M650.50 88.37 C655.49 100.24 655.49 121.83 650.50 142.33 C640.23 128.84 640.23 99.16 650.50 88.37Z" fill="#41f574"/><path d="M650.50 88.82 C655.03 100.50 655.03 121.72 650.50 141.88 C641.17 128.61 641.17 99.43 650.50 88.82Z" fill="#3ff15c"/><path d="M650.50 89.32 C654.58 100.77 654.58 121.60 650.50 141.38 C642.10 128.36 642.10 99.73 650.50 89.32Z" fill="#3ded45"/><path d="M650.50 89.87 C654.13 101.08 654.13 121.47 650.50 140.83 C643.03 128.09 643.03 100.06 650.50 89.87Z" fill="#59f02c"/><path d="M650.50 90.47 C653.67 101.42 653.67 121.32 650.50 140.23 C643.97 127.79 643.97 100.42 650.50 90.47Z" fill="#89f912"/><path d="M650.50 91.15 C653.22 101.80 653.22 121.16 650.50 139.55 C644.90 127.45 644.90 100.83 650.50 91.15Z" fill="#baff00"/><path d="M650.50 91.94 C652.77 102.24 652.77 120.97 650.50 138.76 C645.83 127.06 645.83 101.30 650.50 91.94Z" fill="#ecff00"/><path d="M650.50 92.86 C652.31 102.75 652.31 120.75 650.50 137.84 C646.77 126.60 646.77 101.85 650.50 92.86Z" fill="#ffda00"/><path d="M650.50 93.99 C651.86 103.39 651.86 120.48 650.50 136.71 C647.70 126.03 647.70 102.54 650.50 93.99Z" fill="#ffa500"/><path d="M650.50 95.50 C651.41 104.23 651.41 120.11 650.50 135.20 C648.63 125.28 648.63 103.44 650.50 95.50Z" fill="#ff5a00"/><path d="M650.50 97.82 C650.95 105.54 650.95 119.56 650.50 132.88 C649.57 124.11 649.57 104.83 650.50 97.82Z" fill="#fa0000"/></g>
<circle cx="555.6" cy="153.1" r="8.3" fill="none" stroke="#111" stroke-width="1.0"/><text transform="translate(555.60 157.80) scale(1.0 1.1)" font-size="13" text-anchor="middle">1</text><circle cx="585.9" cy="153.1" r="8.3" fill="none" stroke="#111" stroke-width="1.0"/><text transform="translate(585.90 157.80) scale(1.0 1.1)" font-size="13" text-anchor="middle">2</text><circle cx="620.2" cy="153.1" r="8.3" fill="none" stroke="#111" stroke-width="1.0"/><text transform="translate(620.20 157.80) scale(1.0 1.1)" font-size="13" text-anchor="middle">3</text><circle cx="654.5" cy="153.1" r="8.3" fill="none" stroke="#111" stroke-width="1.0"/><text transform="translate(654.50 157.80) scale(1.0 1.1)" font-size="13" text-anchor="middle">4</text>
<g fill="none" stroke="#ff2020" stroke-width="0.9"><path d="M580.5 53.8 L587.0 74.2"/><circle cx="580.5" cy="53.8" r="3.0"/><circle cx="587.0" cy="74.2" r="3.0"/></g>
<text transform="translate(594.00 65.90) scale(1.0 1.0)" font-size="15.0" font-style="italic">y</text><text transform="translate(601.60 71.00) scale(1.0 1.0)" font-size="9.0" font-style="italic">w</text><text transform="translate(606.20 65.90) scale(1.0 1.05)" font-size="14.7">=3mm</text>
<text transform="translate(389.30 11.30) scale(0.95 1.12)" font-size="15.5" text-anchor="end">20</text>
<text transform="translate(389.30 46.74) scale(0.95 1.12)" font-size="15.5" text-anchor="end">10</text>
<text transform="translate(389.30 82.19) scale(0.95 1.12)" font-size="15.5" text-anchor="end">0</text>
<text transform="translate(389.30 117.63) scale(0.95 1.12)" font-size="15.5" text-anchor="end">-10</text>
<text transform="translate(389.30 153.08) scale(0.95 1.12)" font-size="15.5" text-anchor="end">-20</text>
<text transform="translate(392.70 179.70) scale(0.95 1.12)" font-size="15.5" text-anchor="middle">-60</text>
<text transform="translate(437.65 179.70) scale(0.95 1.12)" font-size="15.5" text-anchor="middle">-40</text>
<text transform="translate(482.60 179.70) scale(0.95 1.12)" font-size="15.5" text-anchor="middle">-20</text>
<text transform="translate(527.55 179.70) scale(0.95 1.12)" font-size="15.5" text-anchor="middle">0</text>
<text transform="translate(572.50 179.70) scale(0.95 1.12)" font-size="15.5" text-anchor="middle">20</text>
<text transform="translate(617.45 179.70) scale(0.95 1.12)" font-size="15.5" text-anchor="middle">40</text>
<text transform="translate(662.40 179.70) scale(0.95 1.12)" font-size="15.5" text-anchor="middle">60</text>
<path d="M396.1 15.6 h29" stroke="#5a5aff" stroke-width="1.3"/><path d="M396.1 36.0 h29" stroke="#a0a0a0" stroke-width="1.6"/><text transform="translate(430.40 20.50) scale(1.0 1.17)" font-size="13">Wheel Profile</text><text transform="translate(430.40 40.30) scale(1.0 1.17)" font-size="13">Rail Profile</text>
<text transform="translate(469.00 197.80) scale(1.0 1.12)" font-size="14.3">Lateral Position/mm</text>
<text transform="translate(369.1 144.6) rotate(-90) scale(1 1.08)" font-size="15.8" textLength="134.6" lengthAdjust="spacingAndGlyphs">vertical position/mm</text>
<text transform="translate(375.20 222.00) scale(1.0 1.0)" font-size="17.5" textLength="269.3" lengthAdjust="spacingAndGlyphs">(b) Lateral Wheel Displacement: 3mm</text>
<path d="M33.5 238.5 V400.2 H325.9" fill="none" stroke="#a8a8a8" stroke-width="1"/>
<path d="M33.5 238.50 h2.7" stroke="#a8a8a8" stroke-width="1"/>
<path d="M33.5 274.34 h2.7" stroke="#a8a8a8" stroke-width="1"/>
<path d="M33.5 310.19 h2.7" stroke="#a8a8a8" stroke-width="1"/>
<path d="M33.5 346.03 h2.7" stroke="#a8a8a8" stroke-width="1"/>
<path d="M33.5 381.88 h2.7" stroke="#a8a8a8" stroke-width="1"/>
<path d="M33.70 400.2 v-2.7" stroke="#a8a8a8" stroke-width="1"/>
<path d="M78.65 400.2 v-2.7" stroke="#a8a8a8" stroke-width="1"/>
<path d="M123.60 400.2 v-2.7" stroke="#a8a8a8" stroke-width="1"/>
<path d="M168.55 400.2 v-2.7" stroke="#a8a8a8" stroke-width="1"/>
<path d="M213.50 400.2 v-2.7" stroke="#a8a8a8" stroke-width="1"/>
<path d="M258.45 400.2 v-2.7" stroke="#a8a8a8" stroke-width="1"/>
<path d="M303.40 400.2 v-2.7" stroke="#a8a8a8" stroke-width="1"/>
<path d="M33.50 392.56 L34.55 392.79 L35.87 392.44 L37.15 392.06 L38.38 391.65 L39.58 391.19 L40.74 390.70 L41.86 390.17 L42.94 389.60 L43.99 389.01 L45.00 388.37 L45.98 387.71 L46.92 387.02 L47.83 386.29 L48.71 385.54 L49.55 384.76 L50.37 383.95 L51.16 383.11 L51.92 382.25 L52.65 381.36 L53.35 380.44 L54.02 379.51 L54.68 378.55 L55.30 377.57 L55.90 376.57 L56.48 375.55 L57.04 374.51 L57.57 373.46 L58.09 372.38 L58.58 371.29 L59.06 370.19 L59.52 369.07 L59.96 367.93 L60.38 366.79 L60.79 365.63 L61.18 364.46 L61.56 363.28 L61.93 362.09 L62.28 360.90 L62.63 359.70 L62.96 358.49 L63.28 357.27 L63.59 356.05 L63.90 354.83 L64.19 353.60 L64.48 352.37 L64.77 351.15 L65.05 349.92 L65.32 348.69 L65.59 347.46 L65.86 346.24 L66.13 345.01 L66.39 343.80 L66.66 342.59 L66.93 341.38 L67.20 340.18 L67.47 338.99 L67.74 337.81 L68.02 336.63 L68.31 335.46 L68.61 334.30 L68.91 333.15 L69.23 332.00 L69.55 330.87 L69.89 329.74 L70.25 328.61 L70.62 327.50 L71.02 326.39 L71.43 325.29 L71.86 324.19 L72.31 323.10 L72.79 322.02 L73.29 320.95 L73.82 319.88 L74.38 318.82 L74.96 317.77 L75.58 316.72 L76.23 315.68 L76.91 314.65 L77.63 313.64 L78.38 312.65 L79.17 311.69 L79.99 310.76 L80.85 309.88 L81.75 309.04 L82.68 308.25 L83.66 307.53 L84.67 306.86 L85.71 306.24 L86.77 305.65 L87.85 305.10 L88.93 304.57 L90.03 304.05 L91.12 303.55 L92.22 303.07 L93.32 302.60 L94.43 302.15 L95.54 301.71 L96.65 301.28 L97.77 300.87 L98.89 300.47 L100.02 300.08 L101.14 299.71 L102.28 299.35 L103.41 299.00 L104.55 298.67 L105.69 298.35 L106.83 298.04 L107.98 297.74 L109.13 297.45 L110.28 297.17 L111.44 296.91 L112.59 296.65 L113.75 296.41 L114.92 296.17 L116.08 295.94 L117.25 295.73 L118.42 295.52 L119.59 295.32 L120.76 295.13 L121.94 294.95 L123.12 294.78 L124.30 294.61 L125.48 294.46 L126.66 294.31 L127.85 294.16 L129.04 294.03 L130.23 293.90 L131.42 293.78 L132.61 293.66 L133.80 293.55 L134.99 293.44 L136.19 293.34 L137.38 293.25 L138.58 293.16 L139.78 293.07 L140.98 292.99 L142.18 292.91 L143.38 292.84 L144.58 292.77 L145.78 292.70 L146.98 292.64 L148.18 292.58 L149.39 292.52 L150.59 292.46 L151.79 292.41 L153.00 292.35 L154.20 292.30 L155.40 292.25 L156.61 292.20 L157.81 292.15 L159.01 292.10 L160.22 292.06 L161.42 292.01 L162.62 291.96 L163.82 291.91 L165.02 291.86 L166.22 291.81 L167.42 291.76 L168.62 291.71 L169.82 291.65 L171.02 291.60 L172.22 291.55 L173.42 291.49 L174.61 291.44 L175.81 291.39 L177.01 291.33 L178.20 291.27 L179.40 291.22 L180.59 291.16 L181.79 291.10 L182.98 291.04 L184.18 290.99 L185.37 290.93 L186.57 290.86 L187.76 290.80 L188.95 290.74 L190.15 290.68 L191.34 290.62 L192.53 290.55 L193.72 290.49 L194.92 290.42 L196.11 290.35 L197.30 290.29 L198.49 290.22 L199.68 290.15 L200.87 290.08 L202.06 290.01 L203.25 289.94 L204.44 289.86 L205.63 289.79 L206.82 289.72 L208.01 289.64 L209.20 289.57 L210.39 289.49 L211.58 289.41 L212.77 289.33 L213.95 289.25 L215.14 289.17 L216.33 289.09 L217.52 289.01 L218.71 288.92 L219.90 288.84 L221.08 288.75 L222.27 288.67 L223.46 288.58 L224.65 288.49 L225.84 288.40 L227.02 288.31 L228.21 288.22 L229.40 288.12 L230.59 288.03 L231.78 287.93 L232.96 287.83 L234.15 287.74 L235.34 287.64 L236.53 287.54 L237.71 287.44 L238.90 287.33 L240.09 287.23 L241.28 287.12 L242.47 287.02 L243.65 286.91 L244.84 286.80 L246.03 286.69 L247.22 286.58 L248.41 286.46 L249.60 286.35 L250.79 286.23 L251.98 286.12 L253.16 286.00 L254.35 285.88 L255.54 285.76 L256.73 285.64 L257.92 285.51 L259.11 285.39 L260.30 285.26 L261.49 285.13 L262.68 285.00 L263.87 284.87 L265.07 284.74 L266.26 284.61 L267.45 284.47 L268.64 284.33 L269.83 284.19 L271.02 284.05 L272.22 283.91 L273.41 283.77 L274.60 283.63 L275.80 283.48 L276.99 283.33 L278.18 283.18 L279.38 283.03 L280.57 282.88 L281.77 282.72 L282.96 282.57 L284.16 282.41 L285.36 282.25 L286.55 282.09 L287.75 281.93 L288.90 282.06 L288.90 282.06 L299.80 265.54 " fill="none" stroke="#3a3aff" stroke-width="1"/>
<path d="M84.40 392.35 L84.63 391.06 L84.88 389.94 L85.12 388.80 L85.34 387.65 L85.55 386.49 L85.74 385.32 L85.93 384.14 L86.10 382.95 L86.26 381.75 L86.42 380.55 L86.57 379.34 L86.71 378.12 L86.85 376.90 L86.98 375.67 L87.12 374.44 L87.25 373.21 L87.38 371.97 L87.51 370.73 L87.65 369.49 L87.79 368.24 L87.93 367.00 L88.08 365.75 L88.24 364.51 L88.40 363.27 L88.57 362.03 L88.76 360.79 L88.95 359.56 L89.16 358.33 L89.38 357.10 L89.62 355.88 L89.87 354.67 L90.14 353.46 L90.43 352.26 L90.74 351.07 L91.06 349.88 L91.41 348.70 L91.79 347.54 L92.18 346.38 L92.60 345.23 L93.04 344.10 L93.51 342.98 L94.00 341.87 L94.51 340.78 L95.05 339.71 L95.61 338.65 L96.19 337.61 L96.80 336.58 L97.44 335.58 L98.10 334.60 L98.78 333.63 L99.49 332.69 L100.22 331.78 L100.98 330.89 L101.77 330.02 L102.58 329.17 L103.42 328.36 L104.28 327.57 L105.17 326.81 L106.09 326.08 L107.03 325.38 L107.99 324.70 L108.98 324.06 L109.99 323.44 L111.02 322.84 L112.07 322.27 L113.14 321.73 L114.22 321.21 L115.32 320.72 L116.44 320.24 L117.57 319.80 L118.71 319.37 L119.87 318.97 L121.03 318.58 L122.21 318.22 L123.39 317.88 L124.58 317.55 L125.78 317.25 L126.98 316.96 L128.19 316.69 L129.40 316.44 L130.61 316.21 L131.82 315.99 L133.03 315.79 L134.24 315.60 L135.44 315.43 L136.65 315.27 L137.84 315.13 L139.04 314.99 L140.22 314.87 L141.40 314.76 L142.56 314.67 L143.72 314.58 L144.86 314.50 L145.99 314.43 L147.20 314.20 L147.20 314.20 L155.20 365.62 L155.20 365.62 L155.34 364.43 L155.37 363.24 L155.42 362.04 L155.48 360.84 L155.56 359.63 L155.66 358.41 L155.79 357.20 L155.93 355.98 L156.09 354.76 L156.28 353.54 L156.49 352.32 L156.72 351.10 L156.97 349.89 L157.25 348.68 L157.56 347.47 L157.89 346.28 L158.24 345.09 L158.62 343.91 L159.03 342.75 L159.46 341.59 L159.93 340.45 L160.42 339.32 L160.94 338.20 L161.49 337.11 L162.07 336.03 L162.69 334.96 L163.33 333.92 L164.00 332.90 L164.71 331.90 L165.44 330.92 L166.20 329.96 L166.98 329.03 L167.79 328.12 L168.62 327.24 L169.48 326.38 L170.36 325.55 L171.25 324.75 L172.17 323.97 L173.10 323.22 L174.06 322.50 L175.02 321.82 L176.01 321.16 L177.00 320.53 L178.01 319.93 L179.04 319.37 L180.07 318.83 L181.12 318.31 L182.18 317.83 L183.25 317.37 L184.34 316.93 L185.43 316.52 L186.53 316.13 L187.65 315.76 L188.77 315.42 L189.91 315.09 L191.05 314.79 L192.20 314.50 L193.36 314.24 L194.52 313.99 L195.69 313.75 L196.87 313.53 L198.06 313.33 L199.25 313.14 L200.44 312.97 L201.64 312.80 L202.85 312.65 L204.06 312.51 L205.27 312.37 L206.49 312.25 L207.71 312.14 L208.93 312.03 L210.15 311.93 L211.38 311.83 L212.60 311.74 L213.83 311.65 L215.06 311.57 L216.28 311.49 L217.51 311.41 L218.73 311.33 L219.96 311.25 L221.18 311.17 L222.40 311.08 L223.62 311.00 L224.83 310.91 L226.05 310.83 L227.26 310.74 L228.47 310.65 L229.68 310.56 L230.88 310.48 L232.09 310.39 L233.29 310.31 L234.49 310.22 L235.69 310.14 L236.89 310.07 L238.09 309.99 L239.28 309.92 L240.48 309.85 L241.67 309.78 L242.86 309.72 L244.05 309.67 L245.24 309.62 L246.43 309.57 L247.61 309.53 L248.80 309.50 L249.99 309.47 L251.17 309.45 L252.35 309.44 L253.54 309.43 L254.72 309.43 L255.90 309.44 L257.09 309.46 L258.27 309.49 L259.45 309.53 L260.63 309.58 L261.81 309.64 L262.99 309.71 L264.17 309.79 L265.35 309.88 L266.53 309.98 L267.71 310.10 L268.89 310.22 L270.08 310.36 L271.26 310.52 L272.44 310.68 L273.62 310.87 L274.80 311.06 L275.99 311.27 L277.17 311.50 L278.36 311.74 L279.54 311.99 L280.73 312.27 L281.91 312.56 L283.10 312.86 L284.28 313.19 L285.45 313.54 L286.62 313.90 L287.78 314.29 L288.93 314.70 L290.07 315.13 L291.19 315.59 L292.30 316.07 L293.39 316.57 L294.47 317.10 L295.53 317.66 L296.56 318.25 L297.57 318.87 L298.56 319.51 L299.52 320.19 L300.46 320.89 L301.36 321.63 L302.24 322.41 L303.08 323.21 L303.89 324.05 L304.66 324.93 L305.41 325.84 L306.12 326.77 L306.80 327.74 L307.45 328.73 L308.06 329.75 L308.65 330.80 L309.21 331.87 L309.75 332.96 L310.25 334.07 L310.74 335.19 L311.19 336.34 L311.62 337.50 L312.03 338.68 L312.41 339.86 L312.77 341.06 L313.11 342.27 L313.42 343.49 L313.72 344.72 L313.99 345.95 L314.25 347.18 L314.49 348.41 L314.71 349.65 L314.91 350.89 L315.10 352.12 L315.27 353.35 L315.43 354.59 L315.58 355.82 L315.71 357.05 L315.83 358.27 L315.94 359.50 L316.03 360.73 L316.12 361.95 L316.20 363.17 L316.27 364.39 L316.34 365.62 L316.40 366.84 L316.45 368.05 L316.50 369.27 L316.55 370.49 L316.59 371.71 L316.63 372.92 L316.67 374.14 L316.71 375.35 L316.75 376.56 L316.79 377.78 L316.83 378.99 L316.87 380.20 L316.92 381.41 L316.98 382.62 L317.04 383.83 L317.10 385.04 L317.17 386.25 L317.25 387.46 L317.34 388.67 L317.44 389.88 L317.55 391.09 L317.60 392.35 " fill="none" stroke="#2a2a2a" stroke-width="1"/>
<ellipse cx="183.7" cy="351.0" rx="12.6" ry="24.1" fill="url(#ov)"/><g filter="url(#bl)"><path d="M226.20 323.80 C201.53 334.30 201.53 365.80 226.20 376.30Z" fill="#0000b3"/><path d="M226.20 323.80 C202.90 334.30 202.90 365.80 226.20 376.30Z" fill="#0000c8"/><path d="M226.20 323.80 C204.27 334.30 204.27 365.80 226.20 376.30Z" fill="#0000dd"/><path d="M226.20 323.80 C205.64 334.30 205.64 365.80 226.20 376.30Z" fill="#0000f2"/><path d="M226.20 323.80 C207.01 334.30 207.01 365.80 226.20 376.30Z" fill="#0018ff"/><path d="M226.20 323.80 C208.39 334.30 208.39 365.80 226.20 376.30Z" fill="#0049ff"/><path d="M226.20 323.80 C209.76 334.30 209.76 365.80 226.20 376.30Z" fill="#007bff"/><path d="M226.20 323.80 C211.13 334.30 211.13 365.80 226.20 376.30Z" fill="#00acff"/><path d="M226.20 323.80 C212.50 334.30 212.50 365.80 226.20 376.30Z" fill="#00e3ff"/><path d="M226.20 323.80 C213.87 334.30 213.87 365.80 226.20 376.30Z" fill="#22ffd5"/><path d="M226.20 323.80 C215.24 334.30 215.24 365.80 226.20 376.30Z" fill="#41f573"/><path d="M226.20 323.80 C216.61 334.30 216.61 365.80 226.20 376.30Z" fill="#81f816"/><path d="M226.20 323.80 C217.98 334.30 217.98 365.80 226.20 376.30Z" fill="#f7ff00"/><path d="M226.20 323.80 C219.35 334.30 219.35 365.80 226.20 376.30Z" fill="#ffc900"/><path d="M226.20 323.80 C220.72 334.30 220.72 365.80 226.20 376.30Z" fill="#ff8e00"/><path d="M226.20 323.80 C222.09 334.30 222.09 365.80 226.20 376.30Z" fill="#ff4700"/><path d="M226.20 323.80 C223.46 334.30 223.46 365.80 226.20 376.30Z" fill="#ff1400"/><path d="M226.20 323.80 C224.83 334.30 224.83 365.80 226.20 376.30Z" fill="#e60000"/></g><g filter="url(#bl)"><path d="M261.70 326.30 C235.97 336.16 235.97 365.74 261.70 375.60Z" fill="#0000e6"/><path d="M261.70 326.30 C237.40 336.16 237.40 365.74 261.70 375.60Z" fill="#002fff"/><path d="M261.70 326.30 C238.83 336.16 238.83 365.74 261.70 375.60Z" fill="#0078ff"/><path d="M261.70 326.30 C240.26 336.16 240.26 365.74 261.70 375.60Z" fill="#00c6ff"/><path d="M261.70 326.30 C241.69 336.16 241.69 365.74 261.70 375.60Z" fill="#00edff"/><path d="M261.70 326.30 C243.11 336.16 243.11 365.74 261.70 375.60Z" fill="#00fbff"/><path d="M261.70 326.30 C244.54 336.16 244.54 365.74 261.70 375.60Z" fill="#08fff5"/><path d="M261.70 326.30 C245.97 336.16 245.97 365.74 261.70 375.60Z" fill="#15ffe6"/><path d="M261.70 326.30 C247.40 336.16 247.40 365.74 261.70 375.60Z" fill="#21ffd7"/><path d="M261.70 326.30 C248.83 336.16 248.83 365.74 261.70 375.60Z" fill="#2dffc8"/><path d="M261.70 326.30 C250.26 336.16 250.26 365.74 261.70 375.60Z" fill="#39ffba"/><path d="M261.70 326.30 C251.69 336.16 251.69 365.74 261.70 375.60Z" fill="#45ffab"/><path d="M261.70 326.30 C253.12 336.16 253.12 365.74 261.70 375.60Z" fill="#40f367"/><path d="M261.70 326.30 C254.55 336.16 254.55 365.74 261.70 375.60Z" fill="#5cf12a"/><path d="M261.70 326.30 C255.98 336.16 255.98 365.74 261.70 375.60Z" fill="#b1ff00"/><path d="M261.70 326.30 C257.41 336.16 257.41 365.74 261.70 375.60Z" fill="#ffea00"/><path d="M261.70 326.30 C258.84 336.16 258.84 365.74 261.70 375.60Z" fill="#ffa400"/><path d="M261.70 326.30 C260.27 336.16 260.27 365.74 261.70 375.60Z" fill="#ff1c00"/></g><g filter="url(#bl)"><path d="M297.50 321.60 C269.50 333.24 269.50 368.16 297.50 379.80Z" fill="#0000d1"/><path d="M297.50 321.60 C271.06 333.24 271.06 368.16 297.50 379.80Z" fill="#0000e9"/><path d="M297.50 321.60 C272.61 333.24 272.61 368.16 297.50 379.80Z" fill="#0046ff"/><path d="M297.50 321.60 C274.17 333.24 274.17 368.16 297.50 379.80Z" fill="#00dbff"/><path d="M297.50 321.60 C275.72 333.24 275.72 368.16 297.50 379.80Z" fill="#00f0ff"/><path d="M297.50 321.60 C277.28 333.24 277.28 368.16 297.50 379.80Z" fill="#05fff9"/><path d="M297.50 321.60 C278.83 333.24 278.83 368.16 297.50 379.80Z" fill="#18ffe1"/><path d="M297.50 321.60 C280.39 333.24 280.39 368.16 297.50 379.80Z" fill="#2cffca"/><path d="M297.50 321.60 C281.94 333.24 281.94 368.16 297.50 379.80Z" fill="#3fffb3"/><path d="M297.50 321.60 C283.50 333.24 283.50 368.16 297.50 379.80Z" fill="#44fb96"/><path d="M297.50 321.60 C285.06 333.24 285.06 368.16 297.50 379.80Z" fill="#42f77c"/><path d="M297.50 321.60 C286.61 333.24 286.61 368.16 297.50 379.80Z" fill="#40f264"/><path d="M297.50 321.60 C288.17 333.24 288.17 368.16 297.50 379.80Z" fill="#3eee4d"/><path d="M297.50 321.60 C289.72 333.24 289.72 368.16 297.50 379.80Z" fill="#4dee33"/><path d="M297.50 321.60 C291.28 333.24 291.28 368.16 297.50 379.80Z" fill="#8ffa0f"/><path d="M297.50 321.60 C292.83 333.24 292.83 368.16 297.50 379.80Z" fill="#d5ff00"/><path d="M297.50 321.60 C294.39 333.24 294.39 368.16 297.50 379.80Z" fill="#ffd600"/><path d="M297.50 321.60 C295.94 333.24 295.94 368.16 297.50 379.80Z" fill="#ff5400"/></g>
<circle cx="192.0" cy="390.3" r="8.3" fill="none" stroke="#111" stroke-width="1.0"/><text transform="translate(192.00 395.00) scale(1.0 1.1)" font-size="13" text-anchor="middle">1</text><circle cx="222.6" cy="390.3" r="8.3" fill="none" stroke="#111" stroke-width="1.0"/><text transform="translate(222.60 395.00) scale(1.0 1.1)" font-size="13" text-anchor="middle">2</text><circle cx="256.9" cy="390.3" r="8.3" fill="none" stroke="#111" stroke-width="1.0"/><text transform="translate(256.90 395.00) scale(1.0 1.1)" font-size="13" text-anchor="middle">3</text><circle cx="291.3" cy="390.3" r="8.3" fill="none" stroke="#111" stroke-width="1.0"/><text transform="translate(291.30 395.00) scale(1.0 1.1)" font-size="13" text-anchor="middle">4</text>
<g fill="none" stroke="#ff2020" stroke-width="0.9"><path d="M134.1 293.8 L147.2 314.2"/><circle cx="134.1" cy="293.8" r="3.0"/><circle cx="147.2" cy="314.2" r="3.0"/></g>
<text transform="translate(149.80 306.60) scale(1.0 1.0)" font-size="14.5" font-style="italic">y</text><text transform="translate(156.60 313.00) scale(1.0 1.0)" font-size="8.5" font-style="italic">w</text><text transform="translate(161.20 306.60) scale(1.0 1.1)" font-size="13.3">=6mm</text>
<text transform="translate(30.30 246.30) scale(0.95 1.12)" font-size="15.5" text-anchor="end">20</text>
<text transform="translate(30.30 282.14) scale(0.95 1.12)" font-size="15.5" text-anchor="end">10</text>
<text transform="translate(30.30 317.99) scale(0.95 1.12)" font-size="15.5" text-anchor="end">0</text>
<text transform="translate(30.30 353.83) scale(0.95 1.12)" font-size="15.5" text-anchor="end">-10</text>
<text transform="translate(30.30 389.68) scale(0.95 1.12)" font-size="15.5" text-anchor="end">-20</text>
<text transform="translate(33.70 415.80) scale(0.95 1.12)" font-size="15.5" text-anchor="middle">-60</text>
<text transform="translate(78.65 415.80) scale(0.95 1.12)" font-size="15.5" text-anchor="middle">-40</text>
<text transform="translate(123.60 415.80) scale(0.95 1.12)" font-size="15.5" text-anchor="middle">-20</text>
<text transform="translate(168.55 415.80) scale(0.95 1.12)" font-size="15.5" text-anchor="middle">0</text>
<text transform="translate(213.50 415.80) scale(0.95 1.12)" font-size="15.5" text-anchor="middle">20</text>
<text transform="translate(258.45 415.80) scale(0.95 1.12)" font-size="15.5" text-anchor="middle">40</text>
<text transform="translate(303.40 415.80) scale(0.95 1.12)" font-size="15.5" text-anchor="middle">60</text>
<path d="M37.0 251.4 h29" stroke="#3030ff" stroke-width="1.1"/><path d="M37.0 271.4 h29" stroke="#3a3a3a" stroke-width="1.1"/><text transform="translate(71.00 256.00) scale(1.0 1.17)" font-size="13">Wheel Profile</text><text transform="translate(71.00 276.10) scale(1.0 1.17)" font-size="13">Rail Profile</text>
<text transform="translate(109.30 430.00) scale(1.0 1.12)" font-size="14.3">Lateral Position/mm</text>
<text transform="translate(11.3 379.4) rotate(-90) scale(1 1.08)" font-size="15.8" textLength="135.2" lengthAdjust="spacingAndGlyphs">vertical position/mm</text>
<text transform="translate(47.00 455.20) scale(1.0 1.0)" font-size="17.5" textLength="267.8" lengthAdjust="spacingAndGlyphs">(c) Lateral Wheel Displacement: 6mm</text>
<path d="M392.5 238.3 V394.8 H684.9" fill="none" stroke="#a8a8a8" stroke-width="1"/>
<path d="M392.5 238.30 h2.7" stroke="#a8a8a8" stroke-width="1"/>
<path d="M392.5 273.03 h2.7" stroke="#a8a8a8" stroke-width="1"/>
<path d="M392.5 307.77 h2.7" stroke="#a8a8a8" stroke-width="1"/>
<path d="M392.5 342.50 h2.7" stroke="#a8a8a8" stroke-width="1"/>
<path d="M392.5 377.23 h2.7" stroke="#a8a8a8" stroke-width="1"/>
<path d="M392.70 394.8 v-2.7" stroke="#a8a8a8" stroke-width="1"/>
<path d="M437.65 394.8 v-2.7" stroke="#a8a8a8" stroke-width="1"/>
<path d="M482.60 394.8 v-2.7" stroke="#a8a8a8" stroke-width="1"/>
<path d="M527.55 394.8 v-2.7" stroke="#a8a8a8" stroke-width="1"/>
<path d="M572.50 394.8 v-2.7" stroke="#a8a8a8" stroke-width="1"/>
<path d="M617.45 394.8 v-2.7" stroke="#a8a8a8" stroke-width="1"/>
<path d="M662.40 394.8 v-2.7" stroke="#a8a8a8" stroke-width="1"/>
<path d="M392.50 387.58 L393.55 387.80 L394.87 387.47 L396.15 387.10 L397.38 386.70 L398.58 386.26 L399.74 385.78 L400.86 385.27 L401.94 384.72 L402.99 384.14 L404.00 383.53 L404.98 382.89 L405.92 382.21 L406.83 381.51 L407.71 380.78 L408.55 380.02 L409.37 379.24 L410.16 378.43 L410.92 377.59 L411.65 376.73 L412.35 375.84 L413.02 374.94 L413.68 374.01 L414.30 373.06 L414.90 372.09 L415.48 371.10 L416.04 370.10 L416.57 369.07 L417.09 368.03 L417.58 366.97 L418.06 365.90 L418.52 364.82 L418.96 363.72 L419.38 362.61 L419.79 361.49 L420.18 360.36 L420.56 359.21 L420.93 358.06 L421.28 356.90 L421.63 355.74 L421.96 354.57 L422.28 353.39 L422.59 352.21 L422.90 351.02 L423.19 349.83 L423.48 348.64 L423.77 347.45 L424.05 346.26 L424.32 345.07 L424.59 343.88 L424.86 342.70 L425.13 341.51 L425.39 340.33 L425.66 339.16 L425.93 337.99 L426.20 336.83 L426.47 335.68 L426.74 334.53 L427.02 333.39 L427.31 332.26 L427.61 331.13 L427.91 330.02 L428.23 328.91 L428.55 327.80 L428.89 326.71 L429.25 325.62 L429.62 324.54 L430.02 323.46 L430.43 322.40 L430.86 321.33 L431.31 320.28 L431.79 319.23 L432.29 318.19 L432.82 317.16 L433.38 316.13 L433.96 315.11 L434.58 314.09 L435.23 313.09 L435.91 312.09 L436.63 311.11 L437.38 310.15 L438.17 309.22 L438.99 308.32 L439.85 307.46 L440.75 306.65 L441.68 305.89 L442.66 305.19 L443.67 304.54 L444.71 303.94 L445.77 303.37 L446.85 302.84 L447.93 302.32 L449.03 301.82 L450.12 301.34 L451.22 300.87 L452.32 300.41 L453.43 299.97 L454.54 299.55 L455.65 299.13 L456.77 298.73 L457.89 298.35 L459.02 297.97 L460.14 297.61 L461.28 297.27 L462.41 296.93 L463.55 296.61 L464.69 296.29 L465.83 295.99 L466.98 295.70 L468.13 295.42 L469.28 295.15 L470.44 294.90 L471.59 294.65 L472.75 294.41 L473.92 294.18 L475.08 293.96 L476.25 293.75 L477.42 293.55 L478.59 293.36 L479.76 293.18 L480.94 293.00 L482.12 292.84 L483.30 292.68 L484.48 292.52 L485.66 292.38 L486.85 292.24 L488.04 292.11 L489.23 291.98 L490.42 291.86 L491.61 291.75 L492.80 291.64 L493.99 291.54 L495.19 291.44 L496.38 291.35 L497.58 291.26 L498.78 291.18 L499.98 291.10 L501.18 291.03 L502.38 290.95 L503.58 290.89 L504.78 290.82 L505.98 290.76 L507.18 290.70 L508.39 290.64 L509.59 290.59 L510.79 290.53 L512.00 290.48 L513.20 290.43 L514.40 290.38 L515.61 290.34 L516.81 290.29 L518.01 290.24 L519.22 290.20 L520.42 290.15 L521.62 290.10 L522.82 290.05 L524.02 290.00 L525.22 289.96 L526.42 289.91 L527.62 289.86 L528.82 289.81 L530.02 289.76 L531.22 289.70 L532.42 289.65 L533.61 289.60 L534.81 289.55 L536.01 289.49 L537.20 289.44 L538.40 289.38 L539.59 289.33 L540.79 289.27 L541.98 289.22 L543.18 289.16 L544.37 289.10 L545.57 289.04 L546.76 288.98 L547.95 288.92 L549.15 288.86 L550.34 288.80 L551.53 288.74 L552.72 288.67 L553.92 288.61 L555.11 288.55 L556.30 288.48 L557.49 288.41 L558.68 288.35 L559.87 288.28 L561.06 288.21 L562.25 288.14 L563.44 288.07 L564.63 288.00 L565.82 287.93 L567.01 287.86 L568.20 287.78 L569.39 287.71 L570.58 287.63 L571.77 287.56 L572.95 287.48 L574.14 287.40 L575.33 287.32 L576.52 287.24 L577.71 287.16 L578.90 287.08 L580.08 286.99 L581.27 286.91 L582.46 286.83 L583.65 286.74 L584.84 286.65 L586.02 286.56 L587.21 286.47 L588.40 286.38 L589.59 286.29 L590.78 286.20 L591.96 286.11 L593.15 286.01 L594.34 285.91 L595.53 285.82 L596.71 285.72 L597.90 285.62 L599.09 285.52 L600.28 285.42 L601.47 285.31 L602.65 285.21 L603.84 285.10 L605.03 285.00 L606.22 284.89 L607.41 284.78 L608.60 284.67 L609.79 284.56 L610.98 284.44 L612.16 284.33 L613.35 284.21 L614.54 284.09 L615.73 283.98 L616.92 283.86 L618.11 283.73 L619.30 283.61 L620.49 283.49 L621.68 283.36 L622.87 283.23 L624.07 283.11 L625.26 282.98 L626.45 282.85 L627.64 282.71 L628.83 282.58 L630.02 282.44 L631.22 282.31 L632.41 282.17 L633.60 282.03 L634.80 281.88 L635.99 281.74 L637.18 281.60 L638.38 281.45 L639.57 281.30 L640.77 281.15 L641.96 281.00 L643.16 280.85 L644.36 280.69 L645.55 280.54 L646.75 280.38 L647.90 280.51 L647.90 280.51 L658.80 264.50 " fill="none" stroke="#3a3aff" stroke-width="1"/>
<path d="M443.40 387.38 L443.63 386.14 L443.88 385.04 L444.12 383.94 L444.34 382.82 L444.55 381.70 L444.74 380.57 L444.93 379.42 L445.10 378.27 L445.26 377.11 L445.42 375.95 L445.57 374.77 L445.71 373.59 L445.85 372.41 L445.98 371.22 L446.12 370.03 L446.25 368.83 L446.38 367.63 L446.51 366.43 L446.65 365.23 L446.79 364.02 L446.93 362.82 L447.08 361.61 L447.24 360.41 L447.40 359.20 L447.57 358.00 L447.76 356.80 L447.95 355.61 L448.16 354.42 L448.38 353.23 L448.62 352.04 L448.87 350.87 L449.14 349.70 L449.43 348.53 L449.74 347.38 L450.06 346.23 L450.41 345.09 L450.79 343.96 L451.18 342.83 L451.60 341.72 L452.04 340.63 L452.51 339.54 L453.00 338.47 L453.51 337.41 L454.05 336.37 L454.61 335.34 L455.19 334.33 L455.80 333.34 L456.44 332.37 L457.10 331.42 L457.78 330.49 L458.49 329.57 L459.22 328.69 L459.98 327.82 L460.77 326.98 L461.58 326.16 L462.42 325.37 L463.28 324.61 L464.17 323.87 L465.09 323.17 L466.03 322.49 L466.99 321.83 L467.98 321.20 L468.99 320.60 L470.02 320.03 L471.07 319.48 L472.14 318.95 L473.22 318.45 L474.32 317.97 L475.44 317.51 L476.57 317.08 L477.71 316.66 L478.87 316.27 L480.03 315.90 L481.21 315.55 L482.39 315.22 L483.58 314.90 L484.78 314.61 L485.98 314.33 L487.19 314.07 L488.40 313.83 L489.61 313.60 L490.82 313.39 L492.03 313.19 L493.24 313.01 L494.44 312.85 L495.65 312.69 L496.84 312.55 L498.04 312.42 L499.22 312.31 L500.40 312.20 L501.56 312.11 L502.72 312.02 L503.86 311.95 L504.99 311.88 L506.20 311.66 L506.20 311.66 L514.20 361.48 L514.20 361.48 L514.34 360.33 L514.37 359.17 L514.42 358.01 L514.48 356.85 L514.56 355.67 L514.66 354.50 L514.79 353.32 L514.93 352.14 L515.09 350.95 L515.28 349.77 L515.49 348.59 L515.72 347.41 L515.97 346.23 L516.25 345.06 L516.56 343.90 L516.89 342.74 L517.24 341.59 L517.62 340.45 L518.03 339.31 L518.46 338.19 L518.93 337.09 L519.42 335.99 L519.94 334.91 L520.49 333.85 L521.07 332.80 L521.69 331.77 L522.33 330.76 L523.00 329.77 L523.71 328.80 L524.44 327.86 L525.20 326.93 L525.98 326.03 L526.79 325.15 L527.62 324.29 L528.48 323.46 L529.36 322.65 L530.25 321.87 L531.17 321.12 L532.10 320.40 L533.06 319.70 L534.02 319.03 L535.01 318.40 L536.00 317.79 L537.01 317.21 L538.04 316.66 L539.07 316.14 L540.12 315.64 L541.18 315.17 L542.25 314.72 L543.34 314.30 L544.43 313.90 L545.53 313.52 L546.65 313.17 L547.77 312.83 L548.91 312.52 L550.05 312.23 L551.20 311.95 L552.36 311.69 L553.52 311.45 L554.69 311.22 L555.87 311.01 L557.06 310.81 L558.25 310.63 L559.44 310.46 L560.64 310.30 L561.85 310.15 L563.06 310.01 L564.27 309.88 L565.49 309.76 L566.71 309.65 L567.93 309.55 L569.15 309.45 L570.38 309.36 L571.60 309.27 L572.83 309.18 L574.06 309.10 L575.28 309.02 L576.51 308.95 L577.73 308.87 L578.96 308.79 L580.18 308.71 L581.40 308.63 L582.62 308.55 L583.83 308.47 L585.05 308.38 L586.26 308.30 L587.47 308.21 L588.68 308.13 L589.88 308.05 L591.09 307.96 L592.29 307.88 L593.49 307.80 L594.69 307.72 L595.89 307.65 L597.09 307.57 L598.28 307.50 L599.48 307.44 L600.67 307.37 L601.86 307.32 L603.05 307.26 L604.24 307.21 L605.43 307.17 L606.61 307.13 L607.80 307.10 L608.99 307.07 L610.17 307.05 L611.35 307.04 L612.54 307.03 L613.72 307.03 L614.90 307.04 L616.09 307.06 L617.27 307.09 L618.45 307.13 L619.63 307.18 L620.81 307.23 L621.99 307.30 L623.17 307.38 L624.35 307.46 L625.53 307.56 L626.71 307.68 L627.89 307.80 L629.08 307.94 L630.26 308.08 L631.44 308.25 L632.62 308.42 L633.80 308.61 L634.99 308.82 L636.17 309.03 L637.36 309.27 L638.54 309.52 L639.73 309.78 L640.91 310.06 L642.10 310.36 L643.28 310.67 L644.45 311.01 L645.62 311.36 L646.78 311.74 L647.93 312.14 L649.07 312.55 L650.19 313.00 L651.30 313.46 L652.39 313.95 L653.47 314.47 L654.53 315.01 L655.56 315.58 L656.57 316.17 L657.56 316.80 L658.52 317.46 L659.46 318.14 L660.36 318.86 L661.24 319.61 L662.08 320.39 L662.89 321.20 L663.66 322.05 L664.41 322.93 L665.12 323.84 L665.80 324.77 L666.45 325.74 L667.06 326.72 L667.65 327.74 L668.21 328.77 L668.75 329.83 L669.25 330.90 L669.74 332.00 L670.19 333.11 L670.62 334.23 L671.03 335.37 L671.41 336.52 L671.77 337.69 L672.11 338.86 L672.42 340.04 L672.72 341.22 L672.99 342.41 L673.25 343.61 L673.49 344.81 L673.71 346.01 L673.91 347.20 L674.10 348.40 L674.27 349.59 L674.43 350.79 L674.58 351.98 L674.71 353.17 L674.83 354.36 L674.94 355.55 L675.03 356.74 L675.12 357.92 L675.20 359.11 L675.27 360.29 L675.34 361.47 L675.40 362.66 L675.45 363.84 L675.50 365.02 L675.55 366.20 L675.59 367.38 L675.63 368.55 L675.67 369.73 L675.71 370.91 L675.75 372.08 L675.79 373.26 L675.83 374.43 L675.87 375.61 L675.92 376.78 L675.98 377.96 L676.04 379.13 L676.10 380.30 L676.17 381.47 L676.25 382.65 L676.34 383.82 L676.44 384.99 L676.55 386.16 L676.60 387.38 " fill="none" stroke="#2a2a2a" stroke-width="1"/>
<ellipse cx="541.3" cy="348.3" rx="5.4" ry="28.5" fill="url(#ov)"/><g filter="url(#bl)"><path d="M567.00 324.70 C595.00 330.41 594.30 366.59 566.30 372.30 C562.30 356.59 563.00 340.41 567.00 324.70Z" fill="#0000a9"/><path d="M566.98 325.87 C593.58 331.29 592.91 365.66 566.31 371.09 C562.51 356.16 563.18 340.79 566.98 325.87Z" fill="#0000f0"/><path d="M566.96 327.03 C592.16 332.17 591.53 364.73 566.33 369.87 C562.73 355.73 563.36 341.17 566.96 327.03Z" fill="#0071ff"/><path d="M566.94 328.19 C590.74 333.05 590.14 363.80 566.34 368.66 C562.94 355.30 563.54 341.55 566.94 328.19Z" fill="#00f3ff"/><path d="M566.92 329.36 C589.32 333.93 588.76 362.87 566.36 367.44 C563.16 354.87 563.72 341.93 566.92 329.36Z" fill="#46ffa9"/><path d="M566.90 330.52 C587.90 334.81 587.38 361.94 566.38 366.23 C563.38 354.44 563.90 342.31 566.90 330.52Z" fill="#5ef129"/><path d="M566.88 331.69 C586.48 335.69 585.99 361.01 566.39 365.01 C563.59 354.01 564.08 342.69 566.88 331.69Z" fill="#fdff00"/><path d="M566.86 332.86 C585.06 336.57 584.61 360.08 566.40 363.80 C563.80 353.58 564.26 343.07 566.86 332.86Z" fill="#ffb800"/><path d="M566.84 334.02 C583.64 337.45 583.22 359.15 566.42 362.58 C564.02 353.16 564.44 343.44 566.84 334.02Z" fill="#ff7400"/><path d="M566.82 335.19 C582.22 338.33 581.83 358.22 566.43 361.37 C564.23 352.73 564.62 343.82 566.82 335.19Z" fill="#ff3900"/><path d="M566.80 336.35 C580.80 339.21 580.45 357.29 566.45 360.15 C564.45 352.30 564.80 344.20 566.80 336.35Z" fill="#ff1300"/><path d="M566.78 337.51 C579.38 340.09 579.07 356.36 566.47 358.94 C564.67 351.87 564.98 344.58 566.78 337.51Z" fill="#ff0100"/><path d="M566.76 338.68 C577.96 340.96 577.68 355.44 566.48 357.72 C564.88 351.44 565.16 344.96 566.76 338.68Z" fill="#f00000"/><path d="M566.74 339.84 C576.54 341.84 576.29 354.51 566.50 356.50 C565.10 351.01 565.34 345.34 566.74 339.84Z" fill="#e00000"/><path d="M566.72 341.01 C575.12 342.72 574.91 353.58 566.51 355.29 C565.31 350.58 565.52 345.72 566.72 341.01Z" fill="#d00000"/><path d="M566.70 342.18 C573.70 343.60 573.52 352.65 566.52 354.07 C565.52 350.15 565.70 346.10 566.70 342.18Z" fill="#c00000"/><path d="M566.68 343.34 C572.28 344.48 572.14 351.72 566.54 352.86 C565.74 349.72 565.88 346.48 566.68 343.34Z" fill="#b00000"/><path d="M566.66 344.50 C570.86 345.36 570.76 350.79 566.56 351.64 C565.96 349.29 566.06 346.86 566.66 344.50Z" fill="#a00000"/><path d="M566.64 345.67 C569.44 346.24 569.37 349.86 566.57 350.43 C566.17 348.86 566.24 347.24 566.64 345.67Z" fill="#900000"/><path d="M566.62 346.83 C568.02 347.12 567.99 348.93 566.59 349.21 C566.38 348.43 566.42 347.62 566.62 346.83Z" fill="#800000"/></g><g filter="url(#bl)"><path d="M601.60 323.30 C629.60 334.26 629.20 362.14 601.20 373.10 C599.20 356.67 599.60 339.73 601.60 323.30Z" fill="#0000bd"/><path d="M601.58 323.47 C628.02 334.35 627.64 362.05 601.20 372.93 C599.31 356.61 599.69 339.79 601.58 323.47Z" fill="#0006ff"/><path d="M601.56 323.65 C626.44 334.45 626.09 361.95 601.20 372.75 C599.42 356.55 599.78 339.85 601.56 323.65Z" fill="#0053ff"/><path d="M601.53 323.84 C624.87 334.56 624.53 361.84 601.20 372.56 C599.53 356.48 599.87 339.92 601.53 323.84Z" fill="#00adff"/><path d="M601.51 324.04 C623.29 334.67 622.98 361.73 601.20 372.36 C599.64 356.41 599.96 339.99 601.51 324.04Z" fill="#00e2ff"/><path d="M601.49 324.25 C621.71 334.79 621.42 361.61 601.20 372.15 C599.76 356.34 600.04 340.06 601.49 324.25Z" fill="#00feff"/><path d="M601.47 324.48 C620.13 334.92 619.87 361.48 601.20 371.92 C599.87 356.26 600.13 340.14 601.47 324.48Z" fill="#18ffe2"/><path d="M601.44 324.73 C618.56 335.06 618.31 361.34 601.20 371.67 C599.98 356.18 600.22 340.22 601.44 324.73Z" fill="#22ffd6"/><path d="M601.42 325.00 C616.98 335.21 616.76 361.19 601.20 371.40 C600.09 356.09 600.31 340.31 601.42 325.00Z" fill="#2bffca"/><path d="M601.40 325.29 C615.40 335.37 615.20 361.03 601.20 371.11 C600.20 355.99 600.40 340.41 601.40 325.29Z" fill="#35ffbf"/><path d="M601.38 325.61 C613.82 335.55 613.64 360.85 601.20 370.79 C600.31 355.88 600.49 340.52 601.38 325.61Z" fill="#3fffb3"/><path d="M601.36 325.97 C612.24 335.75 612.09 360.65 601.20 370.43 C600.42 355.76 600.58 340.64 601.36 325.97Z" fill="#46fea6"/><path d="M601.33 326.38 C610.67 335.98 610.53 360.42 601.20 370.02 C600.53 355.62 600.67 340.78 601.33 326.38Z" fill="#44fb95"/><path d="M601.31 326.85 C609.09 336.24 608.98 360.16 601.20 369.55 C600.64 355.46 600.76 340.94 601.31 326.85Z" fill="#43f885"/><path d="M601.29 327.41 C607.51 336.56 607.42 359.84 601.20 368.99 C600.76 355.27 600.84 341.13 601.29 327.41Z" fill="#3eee4e"/><path d="M601.27 328.12 C605.93 336.95 605.87 359.45 601.20 368.28 C600.87 355.03 600.93 341.37 601.27 328.12Z" fill="#a8ff01"/><path d="M601.24 329.07 C604.36 337.49 604.31 358.91 601.20 367.33 C600.98 354.70 601.02 341.70 601.24 329.07Z" fill="#ffa400"/><path d="M601.22 330.60 C602.78 338.34 602.76 358.06 601.20 365.80 C601.09 354.18 601.11 342.22 601.22 330.60Z" fill="#fa0000"/></g><g filter="url(#bl)"><path d="M637.30 323.30 C669.30 332.41 669.00 364.79 637.00 373.90 C634.33 357.20 634.63 340.00 637.30 323.30Z" fill="#0000e6"/><path d="M637.35 323.62 C668.02 332.61 667.73 364.59 637.07 373.58 C634.51 357.09 634.80 340.11 637.35 323.62Z" fill="#0000f2"/><path d="M637.41 323.95 C666.74 332.83 666.47 364.37 637.13 373.25 C634.69 356.98 634.96 340.22 637.41 323.95Z" fill="#008eff"/><path d="M637.46 324.29 C665.46 333.04 665.20 364.16 637.20 372.91 C634.87 356.86 635.13 340.34 637.46 324.29Z" fill="#04fffa"/><path d="M637.52 324.65 C664.18 333.27 663.93 363.93 637.27 372.55 C635.04 356.74 635.29 340.46 637.52 324.65Z" fill="#0afff2"/><path d="M637.57 325.01 C662.90 333.50 662.67 363.70 637.33 372.19 C635.22 356.62 635.46 340.58 637.57 325.01Z" fill="#1effda"/><path d="M637.62 325.39 C661.62 333.75 661.40 363.45 637.40 371.81 C635.40 356.49 635.62 340.71 637.62 325.39Z" fill="#3effb4"/><path d="M637.68 325.79 C660.35 334.00 660.13 363.20 637.47 371.41 C635.58 356.36 635.79 340.84 637.68 325.79Z" fill="#42ffaf"/><path d="M637.73 326.20 C659.07 334.26 658.87 362.94 637.53 371.00 C635.76 356.22 635.96 340.98 637.73 326.20Z" fill="#46ffaa"/><path d="M637.79 326.63 C657.79 334.54 657.60 362.66 637.60 370.57 C635.93 356.07 636.12 341.13 637.79 326.63Z" fill="#3eee4f"/><path d="M637.84 327.08 C656.51 334.83 656.33 362.37 637.67 370.12 C636.11 355.92 636.29 341.28 637.84 327.08Z" fill="#40ec3a"/><path d="M637.90 327.55 C655.23 335.13 655.07 362.07 637.73 369.65 C636.29 355.76 636.45 341.44 637.90 327.55Z" fill="#46ed37"/><path d="M637.95 328.05 C653.95 335.45 653.80 361.75 637.80 369.15 C636.47 355.59 636.62 341.61 637.95 328.05Z" fill="#4bee34"/><path d="M638.00 328.58 C652.67 335.79 652.53 361.41 637.87 368.62 C636.64 355.41 636.78 341.79 638.00 328.58Z" fill="#6af323"/><path d="M638.06 329.14 C651.39 336.15 651.27 361.05 637.93 368.06 C636.82 355.22 636.95 341.98 638.06 329.14Z" fill="#adff00"/><path d="M638.11 329.75 C650.11 336.54 650.00 360.66 638.00 367.45 C637.00 355.01 637.11 342.19 638.11 329.75Z" fill="#beff00"/><path d="M638.17 330.40 C648.83 336.95 648.73 360.25 638.07 366.80 C637.18 354.79 637.28 342.41 638.17 330.40Z" fill="#ceff00"/><path d="M638.22 331.12 C647.55 337.41 647.47 359.79 638.13 366.08 C637.36 354.54 637.44 342.66 638.22 331.12Z" fill="#fff900"/><path d="M638.27 331.91 C646.27 337.92 646.20 359.28 638.20 365.29 C637.53 354.28 637.61 342.92 638.27 331.91Z" fill="#ffe000"/><path d="M638.33 332.80 C645.00 338.49 644.93 358.71 638.27 364.40 C637.71 353.97 637.77 343.23 638.33 332.80Z" fill="#ffc300"/><path d="M638.38 333.82 C643.72 339.14 643.67 358.06 638.33 363.38 C637.89 353.63 637.94 343.57 638.38 333.82Z" fill="#ff7e00"/><path d="M638.44 335.04 C642.44 339.92 642.40 357.28 638.40 362.16 C638.07 353.21 638.10 343.99 638.44 335.04Z" fill="#ff4c00"/><path d="M638.49 336.59 C641.16 340.92 641.13 356.28 638.47 360.61 C638.24 352.68 638.27 344.52 638.49 336.59Z" fill="#ff2300"/><path d="M638.55 338.85 C639.88 342.36 639.87 354.84 638.53 358.35 C638.42 351.92 638.43 345.28 638.55 338.85Z" fill="#fa0000"/></g>
<circle cx="551.5" cy="385.5" r="8.3" fill="none" stroke="#111" stroke-width="1.0"/><text transform="translate(551.50 390.20) scale(1.0 1.1)" font-size="13" text-anchor="middle">1</text><circle cx="581.9" cy="385.5" r="8.3" fill="none" stroke="#111" stroke-width="1.0"/><text transform="translate(581.90 390.20) scale(1.0 1.1)" font-size="13" text-anchor="middle">2</text><circle cx="616.5" cy="385.1" r="8.3" fill="none" stroke="#111" stroke-width="1.0"/><text transform="translate(616.50 389.80) scale(1.0 1.1)" font-size="13" text-anchor="middle">3</text><circle cx="649.8" cy="385.1" r="8.3" fill="none" stroke="#111" stroke-width="1.0"/><text transform="translate(649.80 389.80) scale(1.0 1.1)" font-size="13" text-anchor="middle">4</text>
<g fill="none" stroke="#ff2020" stroke-width="0.9"><path d="M450.4 301.9 L469.6 320.9"/><circle cx="450.4" cy="301.9" r="3.0"/><circle cx="469.6" cy="320.9" r="3.0"/></g>
<text transform="translate(467.60 307.70) scale(1.0 1.0)" font-size="14.5" font-style="italic">y</text><text transform="translate(474.10 312.80) scale(1.0 1.0)" font-size="8.5" font-style="italic">w</text><text transform="translate(478.70 307.70) scale(1.0 1.1)" font-size="13.3">=9mm</text>
<text transform="translate(389.30 246.10) scale(0.95 1.12)" font-size="15.5" text-anchor="end">20</text>
<text transform="translate(389.30 280.83) scale(0.95 1.12)" font-size="15.5" text-anchor="end">10</text>
<text transform="translate(389.30 315.57) scale(0.95 1.12)" font-size="15.5" text-anchor="end">0</text>
<text transform="translate(389.30 350.30) scale(0.95 1.12)" font-size="15.5" text-anchor="end">-10</text>
<text transform="translate(389.30 385.03) scale(0.95 1.12)" font-size="15.5" text-anchor="end">-20</text>
<text transform="translate(392.70 411.50) scale(0.95 1.12)" font-size="15.5" text-anchor="middle">-60</text>
<text transform="translate(437.65 411.50) scale(0.95 1.12)" font-size="15.5" text-anchor="middle">-40</text>
<text transform="translate(482.60 411.50) scale(0.95 1.12)" font-size="15.5" text-anchor="middle">-20</text>
<text transform="translate(527.55 411.50) scale(0.95 1.12)" font-size="15.5" text-anchor="middle">0</text>
<text transform="translate(572.50 411.50) scale(0.95 1.12)" font-size="15.5" text-anchor="middle">20</text>
<text transform="translate(617.45 411.50) scale(0.95 1.12)" font-size="15.5" text-anchor="middle">40</text>
<text transform="translate(662.40 411.50) scale(0.95 1.12)" font-size="15.5" text-anchor="middle">60</text>
<path d="M396.1 250.5 h29" stroke="#5a5aff" stroke-width="1.3"/><path d="M396.1 270.3 h29" stroke="#707070" stroke-width="1.3"/><text transform="translate(430.40 255.20) scale(1.0 1.17)" font-size="13">Wheel Profile</text><text transform="translate(430.40 275.10) scale(1.0 1.17)" font-size="13">Rail Profile</text>
<text transform="translate(468.60 428.20) scale(1.0 1.12)" font-size="14.3">Lateral Position/mm</text>
<text transform="translate(369.8 375.7) rotate(-90) scale(1 1.08)" font-size="15.8" textLength="131.6" lengthAdjust="spacingAndGlyphs">vertical position/mm</text>
<text transform="translate(378.00 455.40) scale(1.0 1.0)" font-size="17.5" textLength="268.7" lengthAdjust="spacingAndGlyphs">(d) Lateral Wheel Displacement: 9mm</text>
</svg>
</body></html>
